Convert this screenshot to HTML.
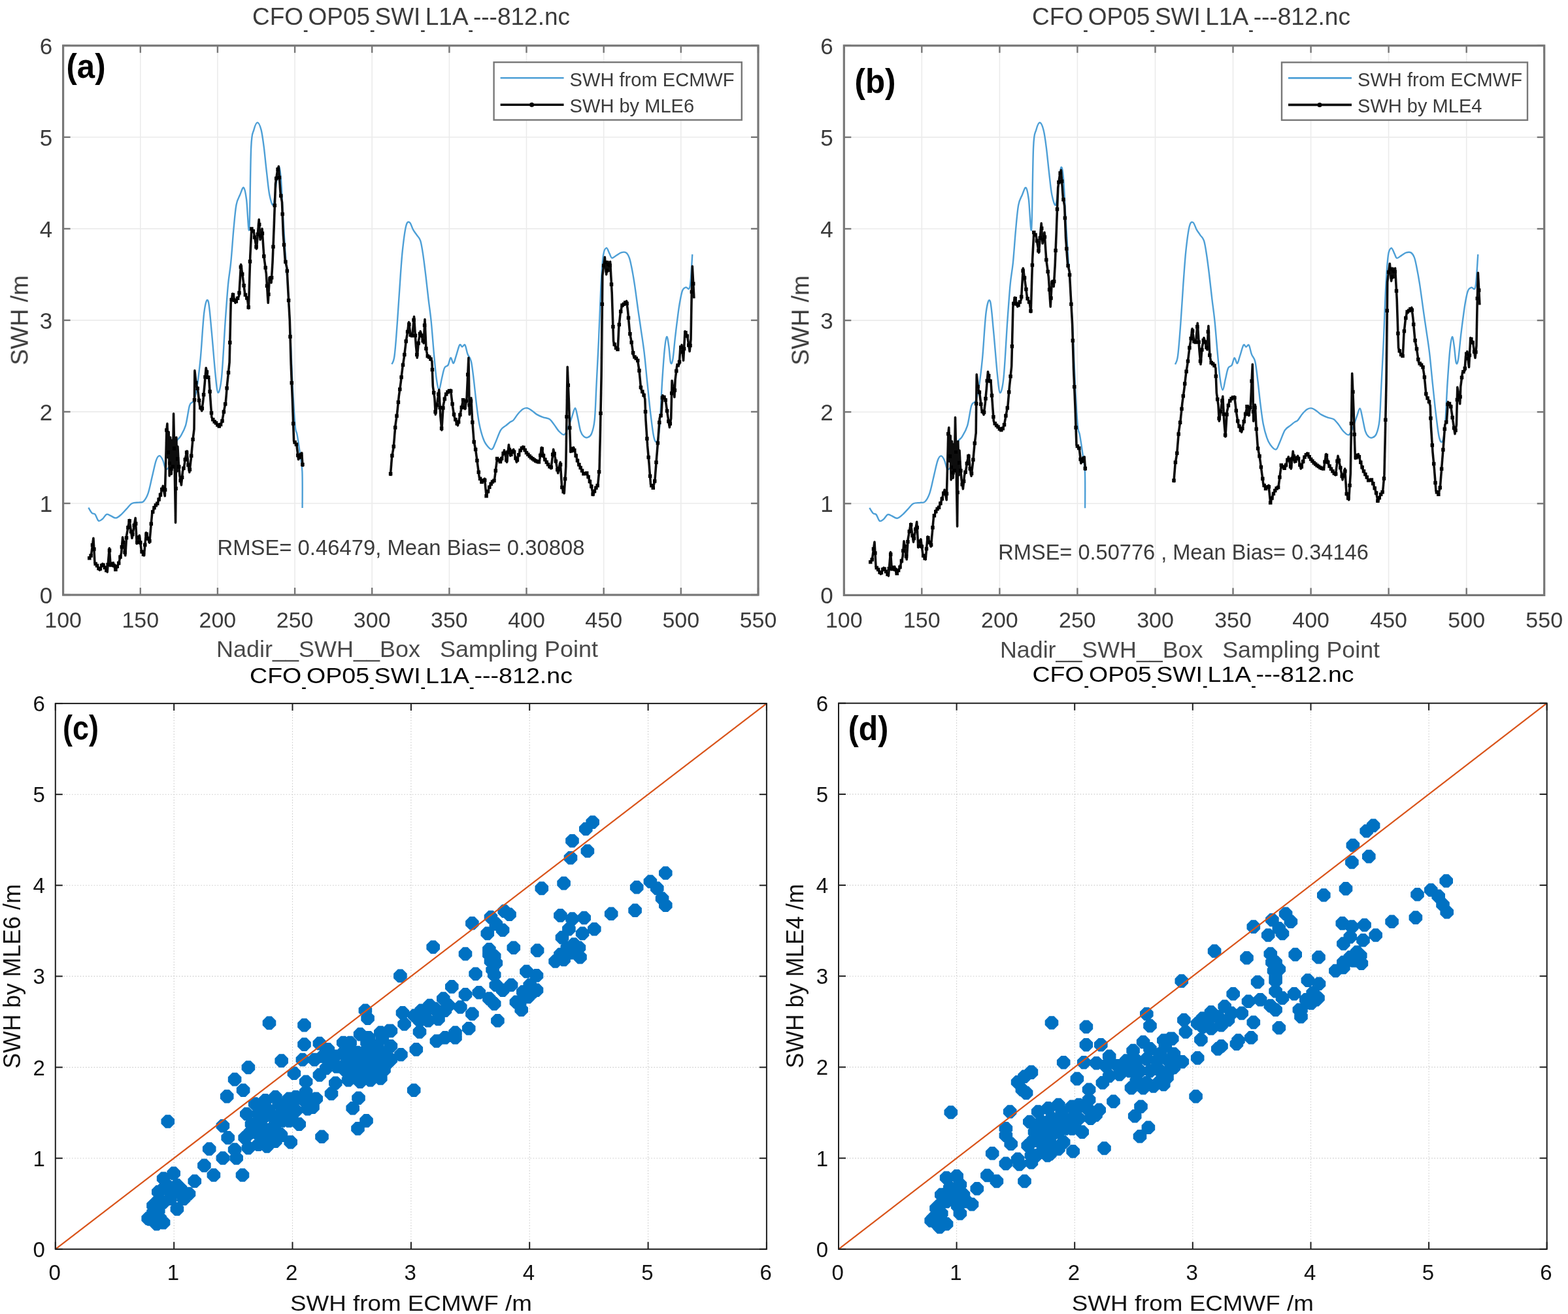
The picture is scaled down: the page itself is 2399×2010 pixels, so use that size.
<!DOCTYPE html><html><head><meta charset="utf-8"><title>SWH comparison</title><style>html,body{margin:0;padding:0;background:#fff;}svg{display:block;}text{font-family:'Liberation Sans', Arial, Helvetica, sans-serif;}</style></head><body>
<svg width="2399" height="2010" viewBox="0 0 2399 2010">
<rect width="2399" height="2010" fill="#fff"/>
<defs><filter id="soft" x="0" y="0" width="2399" height="2010" filterUnits="userSpaceOnUse"><feGaussianBlur stdDeviation="0.55"/></filter></defs>
<g filter="url(#soft)">
<line x1="214.8" y1="69.8" x2="214.8" y2="910.0" stroke="#ebebeb" stroke-width="1.6"/>
<line x1="332.9" y1="69.8" x2="332.9" y2="910.0" stroke="#ebebeb" stroke-width="1.6"/>
<line x1="451.1" y1="69.8" x2="451.1" y2="910.0" stroke="#ebebeb" stroke-width="1.6"/>
<line x1="569.2" y1="69.8" x2="569.2" y2="910.0" stroke="#ebebeb" stroke-width="1.6"/>
<line x1="687.4" y1="69.8" x2="687.4" y2="910.0" stroke="#ebebeb" stroke-width="1.6"/>
<line x1="805.5" y1="69.8" x2="805.5" y2="910.0" stroke="#ebebeb" stroke-width="1.6"/>
<line x1="923.7" y1="69.8" x2="923.7" y2="910.0" stroke="#ebebeb" stroke-width="1.6"/>
<line x1="1041.8" y1="69.8" x2="1041.8" y2="910.0" stroke="#ebebeb" stroke-width="1.6"/>
<line x1="96.6" y1="770.0" x2="1160.0" y2="770.0" stroke="#ebebeb" stroke-width="1.6"/>
<line x1="96.6" y1="629.9" x2="1160.0" y2="629.9" stroke="#ebebeb" stroke-width="1.6"/>
<line x1="96.6" y1="489.9" x2="1160.0" y2="489.9" stroke="#ebebeb" stroke-width="1.6"/>
<line x1="96.6" y1="349.9" x2="1160.0" y2="349.9" stroke="#ebebeb" stroke-width="1.6"/>
<line x1="96.6" y1="209.8" x2="1160.0" y2="209.8" stroke="#ebebeb" stroke-width="1.6"/>
<path d="M135.4 776.5C136.2 777.9 138.9 783.0 140.6 784.7C142.2 786.4 143.8 784.8 145.5 786.8C147.2 788.8 148.8 795.4 150.7 796.6C152.6 797.7 154.8 795.4 156.9 793.8C158.9 792.1 161.0 787.6 163.0 786.8C165.1 786.0 166.7 787.9 169.1 788.9C171.6 789.8 174.7 792.7 177.4 792.4C180.2 792.0 183.0 789.1 185.7 786.8C188.4 784.4 191.0 781.2 193.7 778.4C196.4 775.6 198.9 771.6 202.0 770.0C205.1 768.3 209.5 769.0 212.4 768.6C215.3 768.1 217.1 769.5 219.5 767.2C221.8 764.8 224.4 760.9 226.6 754.6C228.8 748.3 230.7 737.8 232.7 729.4C234.8 721.0 237.0 709.5 238.9 704.2C240.7 698.8 242.3 697.1 244.1 697.1C245.8 697.1 247.7 700.9 249.3 704.2C250.8 707.4 251.7 715.1 253.3 716.8C254.8 718.4 256.6 717.9 258.5 714.0C260.3 710.0 262.4 699.5 264.4 692.9C266.4 686.4 268.4 678.9 270.3 674.7C272.2 670.5 273.7 671.7 276.0 667.7C278.2 663.8 281.6 658.9 284.0 650.9C286.4 643.0 288.1 626.4 290.1 620.1C292.2 613.8 294.5 617.3 296.3 613.1C298.1 608.9 299.3 605.7 301.0 594.9C302.7 584.2 304.8 568.3 306.7 548.7C308.6 529.1 310.4 492.0 312.4 477.3C314.3 462.6 316.6 455.6 318.5 460.5C320.4 465.4 321.9 488.3 323.7 506.7C325.5 525.1 327.8 555.5 329.4 571.1C331.0 586.8 331.8 599.6 333.4 600.5C335.0 601.5 337.2 594.9 339.1 576.7C340.9 558.5 343.1 514.9 344.7 491.3C346.4 467.7 347.6 450.2 349.0 435.3C350.4 420.4 351.8 415.9 353.2 401.7C354.7 387.4 356.1 364.6 357.5 349.9C358.9 335.2 359.9 322.1 361.5 313.5C363.1 304.8 365.3 302.5 367.2 298.1C369.1 293.6 371.2 285.7 372.8 286.9C374.5 288.0 375.7 294.6 377.1 305.1C378.5 315.6 380.2 363.2 381.4 349.9C382.5 336.6 383.0 250.4 384.2 225.2C385.4 200.0 386.8 204.9 388.4 198.6C390.1 192.3 392.0 187.4 393.9 187.4C395.7 187.4 397.9 192.3 399.6 198.6C401.2 204.9 402.4 214.3 403.8 225.2C405.2 236.2 406.6 252.3 408.1 264.4C409.5 276.6 410.7 289.9 412.3 298.1C414.0 306.2 416.4 315.3 418.0 313.5C419.6 311.6 420.6 296.4 422.0 286.9C423.4 277.3 425.0 258.4 426.3 256.0C427.6 253.7 428.6 259.5 429.8 272.8C431.0 286.2 432.2 316.0 433.3 335.9C434.5 355.7 435.7 374.4 436.9 391.9C438.1 409.4 439.3 422.2 440.4 440.9C441.6 459.6 442.8 479.4 444.0 503.9C445.2 528.4 446.3 563.4 447.5 587.9C448.8 612.4 450.4 638.1 451.5 650.9C452.7 663.8 453.4 657.7 454.6 664.9C455.9 672.2 457.8 685.0 459.1 694.3C460.4 703.7 461.8 707.2 462.4 721.0C463.0 734.7 462.6 767.6 462.6 777.0" fill="none" stroke="#4d9fd6" stroke-width="2.4" stroke-linejoin="round"/>
<path d="M599.5 557.1C600.1 555.0 602.1 554.8 603.5 544.5C604.9 534.2 606.4 513.7 607.7 495.5C609.1 477.3 610.4 454.0 611.8 435.3C613.1 416.6 614.2 398.4 615.8 383.5C617.4 368.5 619.4 352.9 621.2 345.7C623.0 338.4 624.8 339.1 626.6 340.1C628.5 341.0 630.2 348.0 632.1 351.3C633.9 354.5 635.9 356.9 637.8 359.7C639.6 362.5 641.6 363.2 643.2 368.1C644.8 373.0 645.9 380.4 647.2 389.1C648.5 397.7 649.8 408.4 651.2 419.9C652.6 431.3 654.1 446.0 655.5 457.7C656.9 469.4 658.1 476.4 659.5 489.9C660.9 503.4 662.4 524.0 663.7 538.9C665.1 553.8 666.4 570.0 667.8 579.5C669.1 589.1 670.4 596.3 671.8 596.3C673.1 596.3 674.4 585.1 675.8 579.5C677.2 573.9 678.4 566.2 680.1 562.7C681.7 559.2 683.9 561.1 685.5 558.5C687.1 555.9 688.1 547.8 689.5 547.3C690.9 546.8 692.4 556.2 693.8 555.7C695.1 555.2 696.2 549.2 697.8 544.5C699.4 539.8 701.6 530.0 703.2 527.7C704.8 525.4 705.8 530.5 707.2 530.5C708.6 530.5 710.1 525.8 711.5 527.7C712.9 529.6 713.9 537.5 715.5 541.7C717.1 545.9 719.4 546.1 720.9 552.9C722.5 559.7 723.6 571.1 725.0 582.3C726.3 593.5 727.8 609.2 729.2 620.1C730.6 631.1 731.6 640.0 733.2 648.1C734.8 656.3 736.8 663.8 738.7 669.1C740.5 674.5 741.8 677.3 744.1 680.3C746.4 683.4 750.1 687.8 752.4 687.3C754.6 686.9 755.5 682.4 757.8 677.5C760.1 672.6 763.4 662.4 766.1 657.9C768.8 653.5 771.6 653.0 774.1 650.9C776.6 648.8 779.0 646.7 781.0 645.3C782.9 643.9 783.7 644.6 785.7 642.5C787.7 640.4 790.4 635.5 792.8 632.7C795.2 629.9 797.7 627.1 800.1 625.7C802.5 624.3 804.8 623.9 807.2 624.3C809.6 624.8 811.9 626.9 814.3 628.5C816.7 630.2 818.8 632.5 821.6 634.1C824.4 635.8 827.9 637.2 831.1 638.3C834.2 639.5 837.7 639.3 840.5 641.1C843.3 643.0 845.4 646.5 847.8 649.5C850.2 652.6 852.4 656.8 854.9 659.3C857.5 661.9 860.8 665.9 863.2 664.9C865.6 664.0 867.3 658.4 869.3 653.7C871.3 649.1 873.5 641.8 875.2 636.9C877.0 632.0 878.6 624.3 880.0 624.3C881.3 624.3 882.1 631.1 883.5 636.9C884.9 642.8 886.6 654.2 888.2 659.3C889.9 664.5 891.4 666.1 893.2 667.7C895.0 669.4 897.1 669.8 899.1 669.1C901.1 668.4 903.2 668.0 905.0 663.5C906.8 659.1 908.5 654.2 909.7 642.5C911.0 630.9 911.3 613.6 912.3 593.5C913.4 573.5 914.7 548.0 915.9 522.1C917.1 496.2 918.3 460.0 919.4 438.1C920.6 416.1 921.6 400.3 923.0 390.5C924.4 380.7 926.1 379.7 927.7 379.3C929.3 378.8 931.0 385.1 932.4 387.7C933.9 390.2 934.4 394.2 936.2 394.7C938.0 395.1 940.9 391.9 943.3 390.5C945.7 389.1 948.0 387.0 950.4 386.3C952.8 385.6 955.5 385.1 957.5 386.3C959.5 387.4 961.0 389.8 962.4 393.3C963.9 396.8 964.6 400.5 966.0 407.3C967.4 414.0 969.0 422.9 970.7 433.9C972.4 444.9 974.5 461.4 976.1 473.1C977.8 484.8 979.1 492.9 980.6 503.9C982.2 514.9 983.9 524.9 985.6 538.9C987.3 552.9 988.9 572.1 990.6 587.9C992.2 603.8 993.9 620.6 995.5 634.1C997.2 647.7 998.8 662.4 1000.5 669.1C1002.1 675.9 1004.0 677.5 1005.5 674.7C1006.9 671.9 1008.0 667.3 1009.2 652.3C1010.5 637.4 1011.8 604.7 1013.0 585.1C1014.3 565.5 1015.6 546.4 1016.8 534.7C1018.0 523.0 1019.0 516.0 1020.1 515.1C1021.2 514.2 1022.2 522.6 1023.2 529.1C1024.2 535.6 1025.0 550.8 1026.0 554.3C1027.0 557.8 1028.1 556.6 1029.3 550.1C1030.5 543.6 1031.8 526.1 1033.1 515.1C1034.4 504.1 1035.6 493.6 1036.9 484.3C1038.1 475.0 1039.4 465.9 1040.7 459.1C1041.9 452.3 1043.0 447.0 1044.4 443.7C1045.9 440.4 1047.6 440.4 1049.4 439.5C1051.3 438.6 1053.9 446.5 1055.6 438.1C1057.2 429.7 1058.7 397.2 1059.3 389.1" fill="none" stroke="#4d9fd6" stroke-width="2.4" stroke-linejoin="round"/>
<polyline points="136.3,854.4 139.4,849.8 142.9,823.2 145.0,861.0 148.6,865.2 152.4,872.2 156.9,862.4 161.1,869.4 164.2,875.0 167.3,838.6 169.1,865.2 173.4,861.0 176.5,872.2 181.4,862.4 185.7,845.6 187.6,821.8 191.8,849.8 193.7,819.0 198.0,795.2 202.0,823.2 207.2,792.4 209.3,831.6 213.3,819.0 216.4,842.8 220.4,849.8 223.5,814.8 228.7,830.2 232.7,785.4 237.0,774.2 241.0,770.0 245.0,758.8 249.3,743.4 252.3,758.8 253.3,721.0 254.9,657.9 255.9,648.1 257.1,700.0 258.2,660.7 259.2,728.0 260.6,669.1 262.3,725.2 263.4,673.3 264.4,714.0 265.6,632.7 266.7,685.9 268.6,799.4 269.8,669.1 271.0,721.0 271.9,683.1 273.1,705.6 275.0,728.0 277.4,742.0 279.5,721.0 281.6,714.0 283.8,700.0 286.1,690.1 288.0,711.2 289.9,722.4 292.5,700.0 294.6,676.1 297.0,656.5 297.9,566.9 300.1,587.9 302.4,594.9 305.5,620.1 308.8,628.5 310.9,611.7 313.1,587.9 315.2,562.7 317.3,573.9 319.7,579.5 321.8,608.9 323.9,638.3 327.0,643.9 330.3,646.7 334.8,652.3 337.6,649.5 340.0,643.9 342.1,631.3 345.4,614.5 347.6,587.9 351.1,554.3 353.2,463.3 356.1,449.3 360.1,463.3 362.9,457.7 365.8,452.1 368.6,404.5 371.4,424.1 374.7,449.3 378.5,457.7 380.4,471.7 382.8,391.9 384.9,349.9 388.4,355.5 392.5,380.7 396.2,335.9 398.1,366.7 401.0,349.9 403.8,391.9 407.3,418.5 410.2,463.3 412.3,424.1 415.1,432.5 417.0,401.7 419.2,347.1 421.5,281.3 424.4,261.6 426.3,254.6 429.1,295.3 431.5,309.3 433.3,358.3 436.2,397.5 439.0,410.1 440.9,446.5 443.3,489.9 445.2,557.1 447.5,614.5 449.6,674.7 453.9,680.3 456.5,702.8 461.7,692.9 463.1,714.0" fill="none" stroke="#111" stroke-width="3.6" stroke-linejoin="round"/>
<path d="M136.8 853.7h0 M139.1 850.1h0 M141.5 833.8h0 M143.9 840.0h0 M146.2 862.4h0 M148.6 865.2h0 M151.0 869.6h0 M153.3 870.1h0 M155.7 865.0h0 M158.0 864.3h0 M160.4 868.2h0 M162.8 872.4h0 M165.1 863.8h0 M167.5 841.9h0 M169.9 864.5h0 M172.2 862.2h0 M174.6 865.3h0 M176.9 871.3h0 M179.3 866.6h0 M181.7 861.5h0 M184.0 852.1h0 M186.4 836.7h0 M188.8 829.6h0 M191.1 845.1h0 M193.5 822.8h0 M195.9 807.1h0 M198.2 796.8h0 M200.6 813.3h0 M202.9 817.6h0 M205.3 803.6h0 M207.7 801.1h0 M210.0 829.4h0 M212.4 821.9h0 M214.8 830.0h0 M217.1 844.0h0 M219.5 848.1h0 M221.8 833.6h0 M224.2 816.9h0 M226.6 823.9h0 M228.9 827.5h0 M231.3 801.2h0 M233.7 782.9h0 M236.0 776.7h0 M238.4 772.7h0 M240.7 770.2h0 M243.1 764.0h0 M245.5 757.1h0 M247.8 748.5h0 M250.2 748.1h0 M252.6 749.3h0 M254.9 657.9h0 M257.3 692.1h0 M259.7 708.4h0 M262.0 717.2h0 M264.4 714.0h0 M266.7 685.9h0 M269.1 747.3h0 M271.5 702.1h0 M273.8 714.0h0 M276.2 735.0h0 M278.6 730.3h0 M280.9 716.3h0 M283.3 703.1h0 M285.6 692.1h0 M288.0 711.2h0 M290.4 718.3h0 M292.7 697.3h0 M295.1 672.2h0 M297.5 611.7h0 M299.8 585.6h0 M302.2 594.2h0 M304.6 612.4h0 M306.9 623.7h0 M309.3 624.8h0 M311.6 603.8h0 M314.0 576.7h0 M316.4 568.9h0 M318.7 577.3h0 M321.1 599.1h0 M323.5 631.8h0 M325.8 641.8h0 M328.2 644.9h0 M330.5 647.0h0 M332.9 650.0h0 M335.3 651.9h0 M337.6 649.5h0 M340.0 643.9h0 M342.4 630.1h0 M344.7 618.1h0 M347.1 593.8h0 M349.5 570.0h0 M351.8 524.0h0 M354.2 458.6h0 M356.5 450.9h0 M358.9 459.2h0 M361.3 461.0h0 M363.6 456.3h0 M366.0 448.1h0 M368.4 408.4h0 M370.7 419.2h0 M373.1 436.7h0 M375.4 450.9h0 M377.8 456.1h0 M380.2 469.9h0 M382.5 399.9h0 M384.9 349.9h0 M387.3 353.6h0 M389.6 362.9h0 M392.0 377.7h0 M394.4 358.3h0 M396.7 343.6h0 M399.1 361.1h0 M401.4 356.9h0 M403.8 391.9h0 M406.2 409.6h0 M408.5 437.2h0 M410.9 450.2h0 M413.3 426.9h0 M415.6 424.8h0 M418.0 377.4h0 M420.3 314.2h0 M422.7 273.1h0 M425.1 259.0h0 M427.4 271.6h0 M429.8 299.5h0 M432.2 327.6h0 M434.5 374.6h0 M436.9 400.6h0 M439.3 414.6h0 M441.6 459.5h0 M444.0 515.1h0 M446.3 585.8h0 M448.7 648.0h0 M451.1 676.6h0 M453.4 679.7h0 M455.8 696.6h0 M458.2 699.6h0 M460.5 695.2h0 M462.9 710.5h0" stroke="#000" stroke-width="5.5" stroke-linecap="square" fill="none"/>
<polyline points="597.3,728.0 599.5,700.0 602.3,683.1 604.9,650.9 607.7,631.3 610.3,606.1 613.2,585.1 615.8,562.7 618.6,544.5 621.2,522.1 623.3,509.5 625.5,492.7 628.1,512.3 630.9,513.7 633.5,484.3 636.3,527.7 638.2,547.3 640.4,522.1 643.2,506.7 645.8,516.5 648.2,524.9 650.0,488.5 651.9,533.3 654.1,544.5 658.1,547.3 660.9,552.9 662.3,590.7 664.9,608.9 666.3,634.1 669.2,614.5 671.8,596.3 673.9,636.9 675.8,657.9 678.2,620.1 681.5,604.7 685.5,599.1 689.5,596.3 692.3,620.1 694.9,636.9 700.4,650.9 704.6,631.3 708.6,611.7 711.5,625.7 714.1,608.9 716.9,547.3 718.3,634.1 720.9,608.9 722.4,639.7 725.0,674.7 727.8,688.7 730.6,709.8 733.2,729.4 737.2,737.8 741.5,732.2 744.1,758.8 748.3,746.2 752.4,737.8 756.4,735.0 760.6,701.4 766.1,707.0 771.5,688.7 775.5,707.0 778.4,680.3 781.0,697.1 785.7,687.3 790.4,707.0 795.4,690.1 800.1,683.1 804.8,691.5 809.6,697.1 814.3,701.4 820.4,705.6 825.1,707.0 828.7,684.5 832.2,700.0 837.0,708.4 843.1,716.8 846.7,687.3 850.2,704.2 853.7,723.8 857.3,707.0 859.6,744.8 863.2,754.6 865.8,714.0 868.2,561.3 870.5,617.3 872.9,691.5 877.6,684.5 881.2,697.1 884.7,708.4 889.7,718.2 893.2,725.2 897.9,723.8 901.5,733.6 905.0,744.8 907.4,757.4 910.9,747.6 914.7,742.0 917.1,716.8 918.3,666.3 920.1,575.3 921.8,421.3 925.3,393.3 927.7,419.9 930.1,400.3 932.4,414.3 933.6,400.3 936.2,447.9 938.6,522.1 942.1,531.9 945.2,534.7 946.8,501.1 949.2,478.7 951.6,467.5 955.1,464.7 958.7,460.5 960.6,475.9 963.6,509.5 966.0,522.1 969.3,544.5 975.4,550.1 978.0,566.9 980.6,594.9 984.4,601.9 986.8,610.3 988.0,642.5 990.6,681.7 992.9,707.0 995.5,740.6 999.3,746.2 1001.9,735.0 1004.3,704.2 1006.9,671.9 1009.2,639.7 1011.8,634.1 1013.7,604.7 1018.0,610.3 1021.8,636.9 1024.4,653.7 1026.7,639.7 1028.1,582.3 1031.9,607.5 1033.1,580.9 1035.7,559.9 1039.2,557.1 1040.7,534.7 1043.0,527.7 1045.6,551.5 1048.0,506.7 1051.8,515.1 1055.1,537.5 1057.0,519.3 1058.1,456.3 1059.3,407.3 1061.9,456.3" fill="none" stroke="#111" stroke-width="3.6" stroke-linejoin="round"/>
<path d="M597.6 724.8h0 M599.9 697.1h0 M602.3 683.1h0 M604.7 653.9h0 M607.0 636.2h0 M609.4 615.3h0 M611.8 595.6h0 M614.1 577.0h0 M616.5 558.2h0 M618.8 542.5h0 M621.2 522.1h0 M623.6 507.6h0 M625.9 496.3h0 M628.3 512.4h0 M630.7 513.6h0 M633.0 489.6h0 M635.4 513.2h0 M637.8 542.4h0 M640.1 524.9h0 M642.5 510.6h0 M644.8 512.9h0 M647.2 521.5h0 M649.6 497.6h0 M651.9 533.3h0 M654.3 544.7h0 M656.7 546.3h0 M659.0 549.2h0 M661.4 565.5h0 M663.7 600.7h0 M666.1 629.9h0 M668.5 619.4h0 M670.8 602.9h0 M673.2 623.4h0 M675.6 655.3h0 M677.9 623.9h0 M680.3 610.2h0 M682.7 603.1h0 M685.0 599.8h0 M687.4 597.8h0 M689.7 598.3h0 M692.1 618.1h0 M694.5 633.9h0 M696.8 641.8h0 M699.2 647.9h0 M701.6 645.5h0 M703.9 634.6h0 M706.3 623.3h0 M708.6 611.7h0 M711.0 623.4h0 M713.4 613.5h0 M715.7 573.0h0 M718.1 619.7h0 M720.5 613.5h0 M722.8 646.1h0 M725.2 675.9h0 M727.6 687.6h0 M729.9 704.5h0 M732.3 722.2h0 M734.6 732.3h0 M737.0 737.3h0 M739.4 735.0h0 M741.7 734.6h0 M744.1 758.8h0 M746.5 751.8h0 M748.8 745.2h0 M751.2 740.2h0 M753.5 736.9h0 M755.9 735.3h0 M758.3 720.0h0 M760.6 701.4h0 M763.0 703.8h0 M765.4 706.2h0 M767.7 701.4h0 M770.1 693.5h0 M772.4 693.0h0 M774.8 703.7h0 M777.2 691.4h0 M779.5 688.0h0 M781.9 695.2h0 M784.3 690.3h0 M786.6 691.3h0 M789.0 701.1h0 M791.4 703.8h0 M793.7 695.7h0 M796.1 689.1h0 M798.4 685.6h0 M800.8 684.4h0 M803.2 688.6h0 M805.5 692.4h0 M807.9 695.2h0 M810.3 697.8h0 M812.6 699.9h0 M815.0 701.8h0 M817.3 703.5h0 M819.7 705.1h0 M822.1 706.0h0 M824.4 706.7h0 M826.8 696.5h0 M829.2 686.6h0 M831.5 696.9h0 M833.9 702.9h0 M836.3 707.1h0 M838.6 710.6h0 M841.0 713.8h0 M843.3 714.8h0 M845.7 695.2h0 M848.1 694.1h0 M850.4 705.5h0 M852.8 718.5h0 M855.2 717.0h0 M857.5 710.7h0 M859.9 745.4h0 M862.2 751.9h0 M864.6 732.4h0 M867.0 637.6h0 M869.3 589.3h0 M871.7 654.4h0 M874.1 689.8h0 M876.4 686.3h0 M878.8 688.7h0 M881.2 697.1h0 M883.5 704.6h0 M885.9 710.7h0 M888.2 715.4h0 M890.6 720.0h0 M893.0 724.7h0 M895.3 724.5h0 M897.7 723.8h0 M900.1 729.6h0 M902.4 736.5h0 M904.8 744.0h0 M907.1 756.1h0 M909.5 751.5h0 M911.9 746.2h0 M914.2 742.7h0 M916.6 721.8h0 M919.0 632.2h0 M921.3 465.3h0 M923.7 406.3h0 M926.1 401.3h0 M928.4 414.0h0 M930.8 404.5h0 M933.1 405.9h0 M935.5 434.9h0 M937.9 499.8h0 M940.2 526.7h0 M942.6 532.3h0 M945.0 534.5h0 M947.3 496.6h0 M949.7 476.5h0 M952.0 467.1h0 M954.4 465.3h0 M956.8 462.7h0 M959.1 464.3h0 M961.5 486.2h0 M963.9 510.8h0 M966.2 523.7h0 M968.6 539.7h0 M971.0 546.0h0 M973.3 548.2h0 M975.7 551.6h0 M978.0 566.9h0 M980.4 592.4h0 M982.8 598.9h0 M985.1 604.4h0 M987.5 629.7h0 M989.9 671.1h0 M992.2 699.4h0 M994.6 728.3h0 M996.9 742.7h0 M999.3 746.2h0 M1001.7 736.0h0 M1004.0 707.2h0 M1006.4 677.8h0 M1008.8 646.2h0 M1011.1 635.7h0 M1013.5 608.4h0 M1015.9 607.5h0 M1018.2 612.0h0 M1020.6 628.6h0 M1022.9 644.6h0 M1025.3 648.1h0 M1027.7 601.5h0 M1030.0 594.9h0 M1032.4 596.9h0 M1034.8 567.6h0 M1037.1 558.8h0 M1039.5 553.4h0 M1041.8 531.2h0 M1044.2 538.5h0 M1046.6 533.6h0 M1048.9 508.8h0 M1051.3 514.1h0 M1053.7 527.9h0 M1056.0 528.4h0 M1058.4 446.5h0 M1060.7 434.0h0" stroke="#000" stroke-width="5.5" stroke-linecap="square" fill="none"/>
<line x1="96.6" y1="910.0" x2="96.6" y2="899.0" stroke="#777777" stroke-width="2.4"/>
<line x1="96.6" y1="69.8" x2="96.6" y2="80.8" stroke="#777777" stroke-width="2.4"/>
<line x1="214.8" y1="910.0" x2="214.8" y2="899.0" stroke="#777777" stroke-width="2.4"/>
<line x1="214.8" y1="69.8" x2="214.8" y2="80.8" stroke="#777777" stroke-width="2.4"/>
<line x1="332.9" y1="910.0" x2="332.9" y2="899.0" stroke="#777777" stroke-width="2.4"/>
<line x1="332.9" y1="69.8" x2="332.9" y2="80.8" stroke="#777777" stroke-width="2.4"/>
<line x1="451.1" y1="910.0" x2="451.1" y2="899.0" stroke="#777777" stroke-width="2.4"/>
<line x1="451.1" y1="69.8" x2="451.1" y2="80.8" stroke="#777777" stroke-width="2.4"/>
<line x1="569.2" y1="910.0" x2="569.2" y2="899.0" stroke="#777777" stroke-width="2.4"/>
<line x1="569.2" y1="69.8" x2="569.2" y2="80.8" stroke="#777777" stroke-width="2.4"/>
<line x1="687.4" y1="910.0" x2="687.4" y2="899.0" stroke="#777777" stroke-width="2.4"/>
<line x1="687.4" y1="69.8" x2="687.4" y2="80.8" stroke="#777777" stroke-width="2.4"/>
<line x1="805.5" y1="910.0" x2="805.5" y2="899.0" stroke="#777777" stroke-width="2.4"/>
<line x1="805.5" y1="69.8" x2="805.5" y2="80.8" stroke="#777777" stroke-width="2.4"/>
<line x1="923.7" y1="910.0" x2="923.7" y2="899.0" stroke="#777777" stroke-width="2.4"/>
<line x1="923.7" y1="69.8" x2="923.7" y2="80.8" stroke="#777777" stroke-width="2.4"/>
<line x1="1041.8" y1="910.0" x2="1041.8" y2="899.0" stroke="#777777" stroke-width="2.4"/>
<line x1="1041.8" y1="69.8" x2="1041.8" y2="80.8" stroke="#777777" stroke-width="2.4"/>
<line x1="1160.0" y1="910.0" x2="1160.0" y2="899.0" stroke="#777777" stroke-width="2.4"/>
<line x1="1160.0" y1="69.8" x2="1160.0" y2="80.8" stroke="#777777" stroke-width="2.4"/>
<line x1="96.6" y1="910.0" x2="107.6" y2="910.0" stroke="#777777" stroke-width="2.4"/>
<line x1="1160.0" y1="910.0" x2="1149.0" y2="910.0" stroke="#777777" stroke-width="2.4"/>
<line x1="96.6" y1="770.0" x2="107.6" y2="770.0" stroke="#777777" stroke-width="2.4"/>
<line x1="1160.0" y1="770.0" x2="1149.0" y2="770.0" stroke="#777777" stroke-width="2.4"/>
<line x1="96.6" y1="629.9" x2="107.6" y2="629.9" stroke="#777777" stroke-width="2.4"/>
<line x1="1160.0" y1="629.9" x2="1149.0" y2="629.9" stroke="#777777" stroke-width="2.4"/>
<line x1="96.6" y1="489.9" x2="107.6" y2="489.9" stroke="#777777" stroke-width="2.4"/>
<line x1="1160.0" y1="489.9" x2="1149.0" y2="489.9" stroke="#777777" stroke-width="2.4"/>
<line x1="96.6" y1="349.9" x2="107.6" y2="349.9" stroke="#777777" stroke-width="2.4"/>
<line x1="1160.0" y1="349.9" x2="1149.0" y2="349.9" stroke="#777777" stroke-width="2.4"/>
<line x1="96.6" y1="209.8" x2="107.6" y2="209.8" stroke="#777777" stroke-width="2.4"/>
<line x1="1160.0" y1="209.8" x2="1149.0" y2="209.8" stroke="#777777" stroke-width="2.4"/>
<line x1="96.6" y1="69.8" x2="107.6" y2="69.8" stroke="#777777" stroke-width="2.4"/>
<line x1="1160.0" y1="69.8" x2="1149.0" y2="69.8" stroke="#777777" stroke-width="2.4"/>
<rect x="96.6" y="69.8" width="1063.4" height="840.2" fill="none" stroke="#777777" stroke-width="3.2"/>
<text x="96.6" y="959.5" font-size="34.0" fill="#3a3a3a" text-anchor="middle" font-weight="normal" >100</text>
<text x="214.8" y="959.5" font-size="34.0" fill="#3a3a3a" text-anchor="middle" font-weight="normal" >150</text>
<text x="332.9" y="959.5" font-size="34.0" fill="#3a3a3a" text-anchor="middle" font-weight="normal" >200</text>
<text x="451.1" y="959.5" font-size="34.0" fill="#3a3a3a" text-anchor="middle" font-weight="normal" >250</text>
<text x="569.2" y="959.5" font-size="34.0" fill="#3a3a3a" text-anchor="middle" font-weight="normal" >300</text>
<text x="687.4" y="959.5" font-size="34.0" fill="#3a3a3a" text-anchor="middle" font-weight="normal" >350</text>
<text x="805.5" y="959.5" font-size="34.0" fill="#3a3a3a" text-anchor="middle" font-weight="normal" >400</text>
<text x="923.7" y="959.5" font-size="34.0" fill="#3a3a3a" text-anchor="middle" font-weight="normal" >450</text>
<text x="1041.8" y="959.5" font-size="34.0" fill="#3a3a3a" text-anchor="middle" font-weight="normal" >500</text>
<text x="1160.0" y="959.5" font-size="34.0" fill="#3a3a3a" text-anchor="middle" font-weight="normal" >550</text>
<text x="80.1" y="922.8" font-size="35.0" fill="#3a3a3a" text-anchor="end" font-weight="normal" >0</text>
<text x="80.1" y="782.8" font-size="35.0" fill="#3a3a3a" text-anchor="end" font-weight="normal" >1</text>
<text x="80.1" y="642.7" font-size="35.0" fill="#3a3a3a" text-anchor="end" font-weight="normal" >2</text>
<text x="80.1" y="502.7" font-size="35.0" fill="#3a3a3a" text-anchor="end" font-weight="normal" >3</text>
<text x="80.1" y="362.7" font-size="35.0" fill="#3a3a3a" text-anchor="end" font-weight="normal" >4</text>
<text x="80.1" y="222.6" font-size="35.0" fill="#3a3a3a" text-anchor="end" font-weight="normal" >5</text>
<text x="80.1" y="82.6" font-size="35.0" fill="#3a3a3a" text-anchor="end" font-weight="normal" >6</text>
<text transform="translate(42.6 489.9) rotate(-90)" x="0" y="0" font-size="37" fill="#3a3a3a" text-anchor="middle">SWH /m</text>
<text x="101.5" y="118.7" font-size="52.0" fill="#000" text-anchor="start" font-weight="bold" textLength="60.0" lengthAdjust="spacingAndGlyphs" >(a)</text>
<rect x="755.6" y="95.2" width="379.2" height="88.3" fill="#fff" stroke="#777777" stroke-width="2.4"/>
<line x1="765.6" y1="119.2" x2="862.6" y2="119.2" stroke="#4d9fd6" stroke-width="2.6"/>
<line x1="765.6" y1="160.2" x2="862.6" y2="160.2" stroke="#111" stroke-width="3.6"/>
<circle cx="813.6" cy="160.2" r="3.5" fill="#000"/>
<text x="871.6" y="131.7" font-size="29.0" fill="#3a3a3a" text-anchor="start" font-weight="normal" textLength="252.0" lengthAdjust="spacingAndGlyphs" >SWH from ECMWF</text>
<text x="871.6" y="171.5" font-size="29.0" fill="#3a3a3a" text-anchor="start" font-weight="normal" textLength="190.5" lengthAdjust="spacingAndGlyphs" >SWH by MLE6</text>
<text x="332.5" y="848.6" font-size="34.0" fill="#3a3a3a" text-anchor="start" font-weight="normal" textLength="562.0" lengthAdjust="spacingAndGlyphs" >RMSE= 0.46479, Mean Bias= 0.30808</text>
<text x="386.0" y="38.4" font-size="37.5" fill="#3a3a3a" textLength="486.0" lengthAdjust="spacingAndGlyphs">CFO<tspan font-size="22.5" font-weight="bold" dy="14.2">-</tspan><tspan dy="-14.2">OP05</tspan><tspan font-size="22.5" font-weight="bold" dy="14.2">-</tspan><tspan dy="-14.2">SWI</tspan><tspan font-size="22.5" font-weight="bold" dy="14.2">-</tspan><tspan dy="-14.2">L1A</tspan><tspan font-size="22.5" font-weight="bold" dy="14.2">-</tspan><tspan dy="-14.2">---812.nc</tspan></text>
<text x="331.0" y="1005.1" font-size="34.5" fill="#4a4a4a" text-anchor="start" font-weight="normal" textLength="584.0" lengthAdjust="spacingAndGlyphs" xml:space="preserve">Nadir__SWH__Box&#160;&#160;&#160;Sampling Point</text>
</g>
<g filter="url(#soft)">
<line x1="1410.3" y1="69.8" x2="1410.3" y2="910.4" stroke="#ebebeb" stroke-width="1.6"/>
<line x1="1529.4" y1="69.8" x2="1529.4" y2="910.4" stroke="#ebebeb" stroke-width="1.6"/>
<line x1="1648.4" y1="69.8" x2="1648.4" y2="910.4" stroke="#ebebeb" stroke-width="1.6"/>
<line x1="1767.5" y1="69.8" x2="1767.5" y2="910.4" stroke="#ebebeb" stroke-width="1.6"/>
<line x1="1886.5" y1="69.8" x2="1886.5" y2="910.4" stroke="#ebebeb" stroke-width="1.6"/>
<line x1="2005.6" y1="69.8" x2="2005.6" y2="910.4" stroke="#ebebeb" stroke-width="1.6"/>
<line x1="2124.6" y1="69.8" x2="2124.6" y2="910.4" stroke="#ebebeb" stroke-width="1.6"/>
<line x1="2243.7" y1="69.8" x2="2243.7" y2="910.4" stroke="#ebebeb" stroke-width="1.6"/>
<line x1="1291.3" y1="770.3" x2="2362.7" y2="770.3" stroke="#ebebeb" stroke-width="1.6"/>
<line x1="1291.3" y1="630.2" x2="2362.7" y2="630.2" stroke="#ebebeb" stroke-width="1.6"/>
<line x1="1291.3" y1="490.1" x2="2362.7" y2="490.1" stroke="#ebebeb" stroke-width="1.6"/>
<line x1="1291.3" y1="350.0" x2="2362.7" y2="350.0" stroke="#ebebeb" stroke-width="1.6"/>
<line x1="1291.3" y1="209.9" x2="2362.7" y2="209.9" stroke="#ebebeb" stroke-width="1.6"/>
<path d="M1330.3 776.9C1331.2 778.2 1333.9 783.3 1335.6 785.0C1337.3 786.7 1338.9 785.1 1340.6 787.1C1342.3 789.1 1343.9 795.8 1345.8 796.9C1347.7 798.1 1349.9 795.8 1352.0 794.1C1354.1 792.5 1356.1 787.9 1358.2 787.1C1360.3 786.3 1362.0 788.3 1364.4 789.2C1366.8 790.1 1369.9 793.1 1372.7 792.7C1375.5 792.4 1378.3 789.4 1381.1 787.1C1383.8 784.8 1386.4 781.5 1389.2 778.7C1391.9 775.9 1394.4 771.9 1397.5 770.3C1400.6 768.7 1405.0 769.4 1408.0 768.9C1410.9 768.4 1412.7 769.8 1415.1 767.5C1417.5 765.2 1420.0 761.2 1422.2 754.9C1424.5 748.6 1426.4 738.1 1428.4 729.7C1430.5 721.3 1432.7 709.8 1434.6 704.5C1436.5 699.1 1438.1 697.4 1439.9 697.4C1441.6 697.4 1443.6 701.2 1445.1 704.5C1446.7 707.7 1447.6 715.4 1449.2 717.1C1450.7 718.7 1452.5 718.2 1454.4 714.3C1456.3 710.3 1458.4 699.8 1460.3 693.2C1462.3 686.7 1464.4 679.2 1466.3 675.0C1468.2 670.8 1469.7 672.0 1472.0 668.0C1474.3 664.1 1477.7 659.2 1480.1 651.2C1482.5 643.3 1484.2 626.7 1486.3 620.4C1488.4 614.1 1490.7 617.6 1492.5 613.4C1494.3 609.2 1495.5 605.9 1497.2 595.2C1499.0 584.4 1501.1 568.6 1503.0 548.9C1504.9 529.3 1506.7 492.2 1508.7 477.5C1510.7 462.8 1513.0 455.8 1514.9 460.7C1516.8 465.6 1518.3 488.5 1520.1 506.9C1521.9 525.4 1524.2 555.7 1525.8 571.4C1527.4 587.0 1528.2 599.8 1529.9 600.8C1531.5 601.7 1533.7 595.2 1535.6 577.0C1537.5 558.7 1539.6 515.1 1541.3 491.5C1543.0 467.9 1544.2 450.4 1545.6 435.5C1547.0 420.5 1548.4 416.1 1549.9 401.8C1551.3 387.6 1552.8 364.7 1554.2 350.0C1555.5 335.3 1556.6 322.2 1558.2 313.6C1559.8 304.9 1562.0 302.6 1563.9 298.2C1565.8 293.7 1568.0 285.8 1569.6 287.0C1571.3 288.1 1572.5 294.7 1573.9 305.2C1575.3 315.7 1577.0 363.3 1578.2 350.0C1579.4 336.7 1579.9 250.5 1581.1 225.3C1582.2 200.1 1583.7 205.0 1585.3 198.7C1587.0 192.4 1589.0 187.5 1590.8 187.5C1592.7 187.5 1594.9 192.4 1596.5 198.7C1598.2 205.0 1599.4 214.3 1600.8 225.3C1602.2 236.3 1603.7 252.4 1605.1 264.5C1606.5 276.7 1607.7 290.0 1609.4 298.2C1611.1 306.3 1613.5 315.4 1615.1 313.6C1616.7 311.7 1617.8 296.5 1619.1 287.0C1620.5 277.4 1622.1 258.5 1623.4 256.1C1624.7 253.8 1625.8 259.6 1627.0 272.9C1628.2 286.3 1629.4 316.1 1630.6 336.0C1631.8 355.8 1633.0 374.5 1634.1 392.0C1635.3 409.5 1636.5 422.4 1637.7 441.1C1638.9 459.7 1640.1 479.6 1641.3 504.1C1642.5 528.6 1643.6 563.7 1644.9 588.2C1646.1 612.7 1647.7 638.4 1648.9 651.2C1650.1 664.1 1650.7 658.0 1652.0 665.2C1653.3 672.5 1655.2 685.3 1656.5 694.6C1657.8 704.0 1659.3 707.5 1659.9 721.3C1660.5 735.0 1660.1 768.0 1660.1 777.3" fill="none" stroke="#4d9fd6" stroke-width="2.4" stroke-linejoin="round"/>
<path d="M1798.0 557.3C1798.6 555.2 1800.6 555.0 1802.0 544.7C1803.4 534.5 1804.9 513.9 1806.3 495.7C1807.7 477.5 1809.0 454.1 1810.3 435.5C1811.7 416.8 1812.8 398.6 1814.4 383.6C1816.0 368.7 1818.0 353.0 1819.9 345.8C1821.7 338.6 1823.5 339.3 1825.3 340.2C1827.2 341.1 1828.9 348.1 1830.8 351.4C1832.7 354.7 1834.7 357.0 1836.5 359.8C1838.4 362.6 1840.4 363.3 1842.0 368.2C1843.6 373.1 1844.7 380.6 1846.0 389.2C1847.4 397.9 1848.7 408.6 1850.1 420.0C1851.5 431.5 1853.0 446.2 1854.4 457.9C1855.8 469.6 1857.0 476.6 1858.4 490.1C1859.8 503.6 1861.3 524.2 1862.7 539.1C1864.1 554.1 1865.4 570.2 1866.8 579.8C1868.1 589.3 1869.5 596.6 1870.8 596.6C1872.2 596.6 1873.5 585.4 1874.9 579.8C1876.2 574.2 1877.5 566.5 1879.1 563.0C1880.8 559.4 1883.0 561.3 1884.6 558.7C1886.2 556.2 1887.3 548.0 1888.7 547.5C1890.1 547.1 1891.6 556.4 1893.0 555.9C1894.3 555.5 1895.4 549.4 1897.0 544.7C1898.6 540.1 1900.9 530.3 1902.5 527.9C1904.1 525.6 1905.1 530.7 1906.5 530.7C1907.9 530.7 1909.4 526.1 1910.8 527.9C1912.2 529.8 1913.3 537.7 1914.9 541.9C1916.4 546.1 1918.7 546.4 1920.3 553.1C1921.9 559.9 1923.0 571.4 1924.4 582.6C1925.8 593.8 1927.3 609.4 1928.7 620.4C1930.1 631.4 1931.1 640.2 1932.7 648.4C1934.3 656.6 1936.4 664.1 1938.2 669.4C1940.0 674.8 1941.4 677.6 1943.7 680.6C1946.0 683.7 1949.7 688.1 1952.0 687.6C1954.3 687.2 1955.2 682.7 1957.5 677.8C1959.8 672.9 1963.1 662.7 1965.8 658.2C1968.5 653.8 1971.4 653.3 1973.9 651.2C1976.4 649.1 1978.9 647.0 1980.8 645.6C1982.7 644.2 1983.6 644.9 1985.6 642.8C1987.6 640.7 1990.3 635.8 1992.7 633.0C1995.1 630.2 1997.7 627.4 2000.1 626.0C2002.5 624.6 2004.9 624.1 2007.2 624.6C2009.6 625.1 2012.0 627.2 2014.4 628.8C2016.8 630.4 2018.9 632.8 2021.8 634.4C2024.6 636.0 2028.1 637.4 2031.3 638.6C2034.5 639.8 2038.0 639.5 2040.8 641.4C2043.6 643.3 2045.8 646.8 2048.2 649.8C2050.6 652.8 2052.7 657.1 2055.3 659.6C2057.9 662.2 2061.2 666.2 2063.7 665.2C2066.1 664.3 2067.8 658.7 2069.9 654.0C2071.9 649.3 2074.0 642.1 2075.8 637.2C2077.6 632.3 2079.2 624.6 2080.6 624.6C2082.0 624.6 2082.7 631.4 2084.1 637.2C2085.5 643.0 2087.3 654.5 2088.9 659.6C2090.5 664.8 2092.1 666.4 2093.9 668.0C2095.7 669.7 2097.9 670.1 2099.8 669.4C2101.8 668.7 2104.0 668.3 2105.8 663.8C2107.6 659.4 2109.3 654.5 2110.6 642.8C2111.8 631.1 2112.2 613.9 2113.2 593.8C2114.2 573.7 2115.6 548.2 2116.8 522.3C2117.9 496.4 2119.1 460.2 2120.3 438.3C2121.5 416.3 2122.5 400.4 2123.9 390.6C2125.3 380.8 2127.1 379.9 2128.7 379.4C2130.2 379.0 2132.0 385.3 2133.4 387.8C2134.8 390.4 2135.4 394.4 2137.2 394.8C2139.1 395.3 2142.0 392.0 2144.4 390.6C2146.8 389.2 2149.1 387.1 2151.5 386.4C2153.9 385.7 2156.6 385.3 2158.7 386.4C2160.7 387.6 2162.2 389.9 2163.7 393.4C2165.1 396.9 2165.8 400.7 2167.2 407.4C2168.6 414.2 2170.3 423.1 2172.0 434.1C2173.7 445.0 2175.8 461.6 2177.5 473.3C2179.1 485.0 2180.4 493.1 2182.0 504.1C2183.6 515.1 2185.3 525.1 2187.0 539.1C2188.7 553.1 2190.3 572.3 2192.0 588.2C2193.7 604.0 2195.3 620.9 2197.0 634.4C2198.7 647.9 2200.3 662.7 2202.0 669.4C2203.7 676.2 2205.5 677.8 2207.0 675.0C2208.5 672.2 2209.5 667.6 2210.8 652.6C2212.1 637.7 2213.3 605.0 2214.6 585.4C2215.9 565.8 2217.2 546.6 2218.4 534.9C2219.6 523.3 2220.7 516.3 2221.8 515.3C2222.8 514.4 2223.9 522.8 2224.8 529.3C2225.8 535.9 2226.7 551.0 2227.7 554.5C2228.7 558.0 2229.8 556.9 2231.0 550.3C2232.2 543.8 2233.6 526.3 2234.8 515.3C2236.1 504.3 2237.4 493.8 2238.7 484.5C2239.9 475.2 2241.2 466.0 2242.5 459.3C2243.7 452.5 2244.8 447.1 2246.3 443.9C2247.7 440.6 2249.4 440.6 2251.3 439.7C2253.1 438.7 2255.8 446.7 2257.5 438.3C2259.1 429.9 2260.6 397.4 2261.3 389.2" fill="none" stroke="#4d9fd6" stroke-width="2.4" stroke-linejoin="round"/>
<polyline points="1331.3,860.4 1334.4,855.8 1338.0,829.1 1340.1,867.0 1343.7,871.2 1347.5,878.2 1352.0,868.4 1356.3,875.4 1359.4,881.0 1362.5,844.6 1364.4,871.2 1368.7,867.0 1371.8,878.2 1376.8,868.4 1381.1,851.6 1383.0,827.7 1387.2,855.8 1389.2,824.9 1393.4,801.1 1397.5,829.1 1402.7,798.3 1404.9,837.5 1408.9,824.9 1412.0,848.8 1416.1,855.8 1419.2,820.7 1424.4,836.1 1428.4,791.3 1432.7,780.1 1436.8,775.9 1440.8,764.7 1445.1,749.3 1448.2,764.7 1449.2,726.9 1450.8,663.8 1451.8,654.0 1453.0,705.9 1454.2,666.6 1455.1,733.9 1456.5,675.0 1458.2,731.1 1459.4,679.2 1460.3,719.9 1461.5,638.6 1462.7,691.8 1464.6,805.3 1465.8,675.0 1467.0,726.9 1468.0,689.0 1469.2,711.5 1471.1,733.9 1473.4,747.9 1475.6,726.9 1477.7,719.9 1479.9,705.9 1482.2,696.0 1484.2,717.1 1486.1,728.3 1488.7,705.9 1490.8,682.0 1493.2,662.4 1494.2,572.8 1496.3,593.8 1498.7,600.8 1501.8,626.0 1505.1,634.4 1507.2,617.6 1509.4,593.8 1511.5,568.6 1513.7,579.8 1516.1,585.4 1518.2,614.8 1520.3,644.2 1523.4,649.8 1526.8,652.6 1531.3,658.2 1534.2,655.4 1536.5,649.8 1538.7,637.2 1542.0,620.4 1544.2,593.8 1547.7,560.1 1549.9,469.1 1552.7,455.1 1556.8,469.1 1559.6,463.5 1562.5,457.9 1565.3,410.2 1568.2,429.9 1571.5,455.1 1575.3,463.5 1577.2,477.5 1579.6,397.6 1581.8,355.6 1585.3,361.2 1589.4,386.4 1593.2,341.6 1595.1,372.4 1598.0,355.6 1600.8,397.6 1604.4,424.3 1607.2,469.1 1609.4,429.9 1612.2,438.3 1614.1,407.4 1616.3,352.8 1618.7,287.0 1621.5,267.3 1623.4,260.3 1626.3,301.0 1628.7,315.0 1630.6,364.0 1633.4,403.2 1636.3,415.8 1638.2,452.3 1640.6,495.7 1642.5,563.0 1644.9,620.4 1647.0,680.6 1651.3,686.2 1653.9,708.7 1659.1,698.8 1660.6,719.9" fill="none" stroke="#111" stroke-width="3.6" stroke-linejoin="round"/>
<path d="M1331.8 859.7h0 M1334.2 856.1h0 M1336.5 839.8h0 M1338.9 846.0h0 M1341.3 868.4h0 M1343.7 871.2h0 M1346.1 875.6h0 M1348.4 876.1h0 M1350.8 871.0h0 M1353.2 870.3h0 M1355.6 874.2h0 M1358.0 878.4h0 M1360.3 869.8h0 M1362.7 847.9h0 M1365.1 870.5h0 M1367.5 868.1h0 M1369.9 871.3h0 M1372.3 877.2h0 M1374.6 872.6h0 M1377.0 867.4h0 M1379.4 858.1h0 M1381.8 842.6h0 M1384.2 835.5h0 M1386.5 851.1h0 M1388.9 828.8h0 M1391.3 813.0h0 M1393.7 802.8h0 M1396.1 819.3h0 M1398.4 823.5h0 M1400.8 809.5h0 M1403.2 807.0h0 M1405.6 835.3h0 M1408.0 827.9h0 M1410.3 835.9h0 M1412.7 850.0h0 M1415.1 854.1h0 M1417.5 839.6h0 M1419.9 822.8h0 M1422.2 829.8h0 M1424.6 833.5h0 M1427.0 807.1h0 M1429.4 788.8h0 M1431.8 782.6h0 M1434.2 778.6h0 M1436.5 776.2h0 M1438.9 770.0h0 M1441.3 763.0h0 M1443.7 754.4h0 M1446.1 754.0h0 M1448.4 755.2h0 M1450.8 663.8h0 M1453.2 698.0h0 M1455.6 714.3h0 M1458.0 723.1h0 M1460.3 719.9h0 M1462.7 691.8h0 M1465.1 753.2h0 M1467.5 708.0h0 M1469.9 719.9h0 M1472.2 740.9h0 M1474.6 736.2h0 M1477.0 722.2h0 M1479.4 709.0h0 M1481.8 698.0h0 M1484.2 717.1h0 M1486.5 724.2h0 M1488.9 703.2h0 M1491.3 678.1h0 M1493.7 617.6h0 M1496.1 591.4h0 M1498.4 600.1h0 M1500.8 618.2h0 M1503.2 629.6h0 M1505.6 630.7h0 M1508.0 609.7h0 M1510.3 582.6h0 M1512.7 574.8h0 M1515.1 583.1h0 M1517.5 605.0h0 M1519.9 637.7h0 M1522.2 647.7h0 M1524.6 650.8h0 M1527.0 652.9h0 M1529.4 655.9h0 M1531.8 657.8h0 M1534.2 655.4h0 M1536.5 649.8h0 M1538.9 636.0h0 M1541.3 624.0h0 M1543.7 599.7h0 M1546.1 575.8h0 M1548.4 529.8h0 M1550.8 464.4h0 M1553.2 456.7h0 M1555.6 465.0h0 M1558.0 466.7h0 M1560.3 462.1h0 M1562.7 453.9h0 M1565.1 414.2h0 M1567.5 425.0h0 M1569.9 442.5h0 M1572.2 456.7h0 M1574.6 461.9h0 M1577.0 475.7h0 M1579.4 405.6h0 M1581.8 355.6h0 M1584.1 359.3h0 M1586.5 368.6h0 M1588.9 383.5h0 M1591.3 364.0h0 M1593.7 349.3h0 M1596.1 366.8h0 M1598.4 362.6h0 M1600.8 397.6h0 M1603.2 415.4h0 M1605.6 442.9h0 M1608.0 456.0h0 M1610.3 432.7h0 M1612.7 430.6h0 M1615.1 383.2h0 M1617.5 319.9h0 M1619.9 278.8h0 M1622.2 264.7h0 M1624.6 277.3h0 M1627.0 305.2h0 M1629.4 333.4h0 M1631.8 380.4h0 M1634.1 406.4h0 M1636.5 420.4h0 M1638.9 465.3h0 M1641.3 520.9h0 M1643.7 591.7h0 M1646.1 653.9h0 M1648.4 682.5h0 M1650.8 685.6h0 M1653.2 702.5h0 M1655.6 705.5h0 M1658.0 701.1h0 M1660.3 716.4h0" stroke="#000" stroke-width="5.5" stroke-linecap="square" fill="none"/>
<polyline points="1795.8,738.1 1798.0,710.1 1800.8,693.2 1803.4,661.0 1806.3,641.4 1808.9,616.2 1811.8,595.2 1814.4,572.8 1817.2,554.5 1819.9,532.1 1822.0,519.5 1824.1,502.7 1826.8,522.3 1829.6,523.7 1832.2,494.3 1835.1,537.7 1837.0,557.3 1839.1,532.1 1842.0,516.7 1844.6,526.5 1847.0,534.9 1848.9,498.5 1850.8,543.3 1853.0,554.5 1857.0,557.3 1859.9,563.0 1861.3,600.8 1863.9,619.0 1865.3,644.2 1868.2,624.6 1870.8,606.4 1873.0,647.0 1874.9,668.0 1877.2,630.2 1880.6,614.8 1884.6,609.2 1888.7,606.4 1891.5,630.2 1894.1,647.0 1899.6,661.0 1903.9,641.4 1908.0,621.8 1910.8,635.8 1913.4,619.0 1916.3,557.3 1917.7,644.2 1920.3,619.0 1921.8,649.8 1924.4,684.8 1927.2,698.8 1930.1,719.9 1932.7,739.5 1936.8,747.9 1941.0,742.3 1943.7,768.9 1947.9,756.3 1952.0,747.9 1956.0,745.1 1960.3,711.5 1965.8,717.1 1971.3,698.8 1975.3,717.1 1978.2,690.4 1980.8,707.3 1985.6,697.4 1990.3,717.1 1995.3,700.2 2000.1,693.2 2004.9,701.7 2009.6,707.3 2014.4,711.5 2020.6,715.7 2025.3,717.1 2028.9,694.6 2032.5,710.1 2037.2,718.5 2043.4,726.9 2047.0,697.4 2050.6,714.3 2054.1,733.9 2057.7,717.1 2060.1,754.9 2063.7,764.7 2066.3,724.1 2068.7,571.4 2071.0,627.4 2073.4,701.7 2078.2,694.6 2081.8,707.3 2085.3,718.5 2090.3,728.3 2093.9,735.3 2098.7,733.9 2102.2,743.7 2105.8,754.9 2108.2,767.5 2111.8,757.7 2115.6,752.1 2117.9,726.9 2119.1,676.4 2121.0,585.4 2122.7,431.3 2126.3,403.2 2128.7,429.9 2131.0,410.2 2133.4,424.3 2134.6,410.2 2137.2,457.9 2139.6,532.1 2143.2,541.9 2146.3,544.7 2147.9,511.1 2150.3,488.7 2152.7,477.5 2156.3,474.7 2159.8,470.5 2161.8,485.9 2164.8,519.5 2167.2,532.1 2170.6,554.5 2176.8,560.1 2179.4,577.0 2182.0,605.0 2185.8,612.0 2188.2,620.4 2189.4,652.6 2192.0,691.8 2194.4,717.1 2197.0,750.7 2200.8,756.3 2203.4,745.1 2205.8,714.3 2208.4,682.0 2210.8,649.8 2213.4,644.2 2215.3,614.8 2219.6,620.4 2223.4,647.0 2226.0,663.8 2228.4,649.8 2229.8,592.4 2233.7,617.6 2234.8,591.0 2237.5,570.0 2241.0,567.2 2242.5,544.7 2244.8,537.7 2247.5,561.6 2249.8,516.7 2253.7,525.1 2257.0,547.5 2258.9,529.3 2260.1,466.3 2261.3,417.2 2263.9,466.3" fill="none" stroke="#111" stroke-width="3.6" stroke-linejoin="round"/>
<path d="M1796.0 735.0h0 M1798.4 707.3h0 M1800.8 693.2h0 M1803.2 664.0h0 M1805.6 646.3h0 M1808.0 625.4h0 M1810.3 605.7h0 M1812.7 587.0h0 M1815.1 568.2h0 M1817.5 552.5h0 M1819.9 532.1h0 M1822.2 517.7h0 M1824.6 506.3h0 M1827.0 522.4h0 M1829.4 523.6h0 M1831.8 499.7h0 M1834.1 523.3h0 M1836.5 552.4h0 M1838.9 534.9h0 M1841.3 520.6h0 M1843.7 523.0h0 M1846.0 531.6h0 M1848.4 507.6h0 M1850.8 543.3h0 M1853.2 554.7h0 M1855.6 556.4h0 M1858.0 559.2h0 M1860.3 575.6h0 M1862.7 610.7h0 M1865.1 640.0h0 M1867.5 629.5h0 M1869.9 613.0h0 M1872.2 633.5h0 M1874.6 665.4h0 M1877.0 634.0h0 M1879.4 620.3h0 M1881.8 613.1h0 M1884.1 609.8h0 M1886.5 607.9h0 M1888.9 608.4h0 M1891.3 628.2h0 M1893.7 644.0h0 M1896.0 651.9h0 M1898.4 658.0h0 M1900.8 655.6h0 M1903.2 644.7h0 M1905.6 633.3h0 M1908.0 621.8h0 M1910.3 633.5h0 M1912.7 623.6h0 M1915.1 583.0h0 M1917.5 629.7h0 M1919.9 623.6h0 M1922.2 656.2h0 M1924.6 686.0h0 M1927.0 697.7h0 M1929.4 714.6h0 M1931.8 732.3h0 M1934.1 742.4h0 M1936.5 747.4h0 M1938.9 745.1h0 M1941.3 744.7h0 M1943.7 768.9h0 M1946.0 761.9h0 M1948.4 755.3h0 M1950.8 750.4h0 M1953.2 747.1h0 M1955.6 745.4h0 M1957.9 730.1h0 M1960.3 711.5h0 M1962.7 713.9h0 M1965.1 716.3h0 M1967.5 711.5h0 M1969.9 703.6h0 M1972.2 703.1h0 M1974.6 713.8h0 M1977.0 701.5h0 M1979.4 698.1h0 M1981.8 705.3h0 M1984.1 700.4h0 M1986.5 701.4h0 M1988.9 711.2h0 M1991.3 713.9h0 M1993.7 705.9h0 M1996.0 699.2h0 M1998.4 695.7h0 M2000.8 694.5h0 M2003.2 698.7h0 M2005.6 702.5h0 M2007.9 705.3h0 M2010.3 707.9h0 M2012.7 710.0h0 M2015.1 711.9h0 M2017.5 713.6h0 M2019.9 715.2h0 M2022.2 716.2h0 M2024.6 716.9h0 M2027.0 706.6h0 M2029.4 696.7h0 M2031.8 707.0h0 M2034.1 713.0h0 M2036.5 717.2h0 M2038.9 720.7h0 M2041.3 724.0h0 M2043.7 724.9h0 M2046.0 705.3h0 M2048.4 704.2h0 M2050.8 715.6h0 M2053.2 728.6h0 M2055.6 727.1h0 M2057.9 720.8h0 M2060.3 755.5h0 M2062.7 762.1h0 M2065.1 742.5h0 M2067.5 647.7h0 M2069.9 599.4h0 M2072.2 664.5h0 M2074.6 699.9h0 M2077.0 696.4h0 M2079.4 698.8h0 M2081.8 707.3h0 M2084.1 714.7h0 M2086.5 720.8h0 M2088.9 725.5h0 M2091.3 730.1h0 M2093.7 734.8h0 M2096.0 734.6h0 M2098.4 733.9h0 M2100.8 739.8h0 M2103.2 746.7h0 M2105.6 754.1h0 M2107.9 766.2h0 M2110.3 761.6h0 M2112.7 756.3h0 M2115.1 752.8h0 M2117.5 731.9h0 M2119.8 642.3h0 M2122.2 475.3h0 M2124.6 416.3h0 M2127.0 411.2h0 M2129.4 424.0h0 M2131.8 414.4h0 M2134.1 415.8h0 M2136.5 444.9h0 M2138.9 509.9h0 M2141.3 536.7h0 M2143.7 542.4h0 M2146.0 544.5h0 M2148.4 506.6h0 M2150.8 486.5h0 M2153.2 477.1h0 M2155.6 475.2h0 M2157.9 472.7h0 M2160.3 474.3h0 M2162.7 496.2h0 M2165.1 520.8h0 M2167.5 533.7h0 M2169.8 549.7h0 M2172.2 556.1h0 M2174.6 558.2h0 M2177.0 561.7h0 M2179.4 577.0h0 M2181.8 602.4h0 M2184.1 608.9h0 M2186.5 614.5h0 M2188.9 639.7h0 M2191.3 681.1h0 M2193.7 709.5h0 M2196.0 738.5h0 M2198.4 752.8h0 M2200.8 756.3h0 M2203.2 746.1h0 M2205.6 717.3h0 M2207.9 687.9h0 M2210.3 656.3h0 M2212.7 645.7h0 M2215.1 618.5h0 M2217.5 617.6h0 M2219.8 622.1h0 M2222.2 638.7h0 M2224.6 654.7h0 M2227.0 658.2h0 M2229.4 611.5h0 M2231.8 605.0h0 M2234.1 606.9h0 M2236.5 577.6h0 M2238.9 568.8h0 M2241.3 563.4h0 M2243.7 541.2h0 M2246.0 548.6h0 M2248.4 543.6h0 M2250.8 518.8h0 M2253.2 524.1h0 M2255.6 537.9h0 M2257.9 538.4h0 M2260.3 456.5h0 M2262.7 444.0h0" stroke="#000" stroke-width="5.5" stroke-linecap="square" fill="none"/>
<line x1="1291.3" y1="910.4" x2="1291.3" y2="899.4" stroke="#777777" stroke-width="2.4"/>
<line x1="1291.3" y1="69.8" x2="1291.3" y2="80.8" stroke="#777777" stroke-width="2.4"/>
<line x1="1410.3" y1="910.4" x2="1410.3" y2="899.4" stroke="#777777" stroke-width="2.4"/>
<line x1="1410.3" y1="69.8" x2="1410.3" y2="80.8" stroke="#777777" stroke-width="2.4"/>
<line x1="1529.4" y1="910.4" x2="1529.4" y2="899.4" stroke="#777777" stroke-width="2.4"/>
<line x1="1529.4" y1="69.8" x2="1529.4" y2="80.8" stroke="#777777" stroke-width="2.4"/>
<line x1="1648.4" y1="910.4" x2="1648.4" y2="899.4" stroke="#777777" stroke-width="2.4"/>
<line x1="1648.4" y1="69.8" x2="1648.4" y2="80.8" stroke="#777777" stroke-width="2.4"/>
<line x1="1767.5" y1="910.4" x2="1767.5" y2="899.4" stroke="#777777" stroke-width="2.4"/>
<line x1="1767.5" y1="69.8" x2="1767.5" y2="80.8" stroke="#777777" stroke-width="2.4"/>
<line x1="1886.5" y1="910.4" x2="1886.5" y2="899.4" stroke="#777777" stroke-width="2.4"/>
<line x1="1886.5" y1="69.8" x2="1886.5" y2="80.8" stroke="#777777" stroke-width="2.4"/>
<line x1="2005.6" y1="910.4" x2="2005.6" y2="899.4" stroke="#777777" stroke-width="2.4"/>
<line x1="2005.6" y1="69.8" x2="2005.6" y2="80.8" stroke="#777777" stroke-width="2.4"/>
<line x1="2124.6" y1="910.4" x2="2124.6" y2="899.4" stroke="#777777" stroke-width="2.4"/>
<line x1="2124.6" y1="69.8" x2="2124.6" y2="80.8" stroke="#777777" stroke-width="2.4"/>
<line x1="2243.7" y1="910.4" x2="2243.7" y2="899.4" stroke="#777777" stroke-width="2.4"/>
<line x1="2243.7" y1="69.8" x2="2243.7" y2="80.8" stroke="#777777" stroke-width="2.4"/>
<line x1="2362.7" y1="910.4" x2="2362.7" y2="899.4" stroke="#777777" stroke-width="2.4"/>
<line x1="2362.7" y1="69.8" x2="2362.7" y2="80.8" stroke="#777777" stroke-width="2.4"/>
<line x1="1291.3" y1="910.4" x2="1302.3" y2="910.4" stroke="#777777" stroke-width="2.4"/>
<line x1="2362.7" y1="910.4" x2="2351.7" y2="910.4" stroke="#777777" stroke-width="2.4"/>
<line x1="1291.3" y1="770.3" x2="1302.3" y2="770.3" stroke="#777777" stroke-width="2.4"/>
<line x1="2362.7" y1="770.3" x2="2351.7" y2="770.3" stroke="#777777" stroke-width="2.4"/>
<line x1="1291.3" y1="630.2" x2="1302.3" y2="630.2" stroke="#777777" stroke-width="2.4"/>
<line x1="2362.7" y1="630.2" x2="2351.7" y2="630.2" stroke="#777777" stroke-width="2.4"/>
<line x1="1291.3" y1="490.1" x2="1302.3" y2="490.1" stroke="#777777" stroke-width="2.4"/>
<line x1="2362.7" y1="490.1" x2="2351.7" y2="490.1" stroke="#777777" stroke-width="2.4"/>
<line x1="1291.3" y1="350.0" x2="1302.3" y2="350.0" stroke="#777777" stroke-width="2.4"/>
<line x1="2362.7" y1="350.0" x2="2351.7" y2="350.0" stroke="#777777" stroke-width="2.4"/>
<line x1="1291.3" y1="209.9" x2="1302.3" y2="209.9" stroke="#777777" stroke-width="2.4"/>
<line x1="2362.7" y1="209.9" x2="2351.7" y2="209.9" stroke="#777777" stroke-width="2.4"/>
<line x1="1291.3" y1="69.8" x2="1302.3" y2="69.8" stroke="#777777" stroke-width="2.4"/>
<line x1="2362.7" y1="69.8" x2="2351.7" y2="69.8" stroke="#777777" stroke-width="2.4"/>
<rect x="1291.3" y="69.8" width="1071.4" height="840.6" fill="none" stroke="#777777" stroke-width="3.2"/>
<text x="1291.3" y="959.5" font-size="34.0" fill="#3a3a3a" text-anchor="middle" font-weight="normal" >100</text>
<text x="1410.3" y="959.5" font-size="34.0" fill="#3a3a3a" text-anchor="middle" font-weight="normal" >150</text>
<text x="1529.4" y="959.5" font-size="34.0" fill="#3a3a3a" text-anchor="middle" font-weight="normal" >200</text>
<text x="1648.4" y="959.5" font-size="34.0" fill="#3a3a3a" text-anchor="middle" font-weight="normal" >250</text>
<text x="1767.5" y="959.5" font-size="34.0" fill="#3a3a3a" text-anchor="middle" font-weight="normal" >300</text>
<text x="1886.5" y="959.5" font-size="34.0" fill="#3a3a3a" text-anchor="middle" font-weight="normal" >350</text>
<text x="2005.6" y="959.5" font-size="34.0" fill="#3a3a3a" text-anchor="middle" font-weight="normal" >400</text>
<text x="2124.6" y="959.5" font-size="34.0" fill="#3a3a3a" text-anchor="middle" font-weight="normal" >450</text>
<text x="2243.7" y="959.5" font-size="34.0" fill="#3a3a3a" text-anchor="middle" font-weight="normal" >500</text>
<text x="2362.7" y="959.5" font-size="34.0" fill="#3a3a3a" text-anchor="middle" font-weight="normal" >550</text>
<text x="1274.8" y="923.2" font-size="35.0" fill="#3a3a3a" text-anchor="end" font-weight="normal" >0</text>
<text x="1274.8" y="783.1" font-size="35.0" fill="#3a3a3a" text-anchor="end" font-weight="normal" >1</text>
<text x="1274.8" y="643.0" font-size="35.0" fill="#3a3a3a" text-anchor="end" font-weight="normal" >2</text>
<text x="1274.8" y="502.9" font-size="35.0" fill="#3a3a3a" text-anchor="end" font-weight="normal" >3</text>
<text x="1274.8" y="362.8" font-size="35.0" fill="#3a3a3a" text-anchor="end" font-weight="normal" >4</text>
<text x="1274.8" y="222.7" font-size="35.0" fill="#3a3a3a" text-anchor="end" font-weight="normal" >5</text>
<text x="1274.8" y="82.6" font-size="35.0" fill="#3a3a3a" text-anchor="end" font-weight="normal" >6</text>
<text transform="translate(1237.3 490.1) rotate(-90)" x="0" y="0" font-size="37" fill="#3a3a3a" text-anchor="middle">SWH /m</text>
<text x="1307.5" y="142.2" font-size="52.0" fill="#000" text-anchor="start" font-weight="bold" textLength="63.0" lengthAdjust="spacingAndGlyphs" >(b)</text>
<rect x="1961.0" y="95.4" width="376.0" height="88.3" fill="#fff" stroke="#777777" stroke-width="2.4"/>
<line x1="1971.0" y1="119.4" x2="2068.0" y2="119.4" stroke="#4d9fd6" stroke-width="2.6"/>
<line x1="1971.0" y1="160.4" x2="2068.0" y2="160.4" stroke="#111" stroke-width="3.6"/>
<circle cx="2019.0" cy="160.4" r="3.5" fill="#000"/>
<text x="2077.0" y="131.9" font-size="29.0" fill="#3a3a3a" text-anchor="start" font-weight="normal" textLength="252.0" lengthAdjust="spacingAndGlyphs" >SWH from ECMWF</text>
<text x="2077.0" y="171.7" font-size="29.0" fill="#3a3a3a" text-anchor="start" font-weight="normal" textLength="190.5" lengthAdjust="spacingAndGlyphs" >SWH by MLE4</text>
<text x="1527.3" y="855.7" font-size="34.0" fill="#3a3a3a" text-anchor="start" font-weight="normal" textLength="566.5" lengthAdjust="spacingAndGlyphs" >RMSE= 0.50776 , Mean Bias= 0.34146</text>
<text x="1579.0" y="38.4" font-size="37.5" fill="#3a3a3a" textLength="487.0" lengthAdjust="spacingAndGlyphs">CFO<tspan font-size="22.5" font-weight="bold" dy="14.2">-</tspan><tspan dy="-14.2">OP05</tspan><tspan font-size="22.5" font-weight="bold" dy="14.2">-</tspan><tspan dy="-14.2">SWI</tspan><tspan font-size="22.5" font-weight="bold" dy="14.2">-</tspan><tspan dy="-14.2">L1A</tspan><tspan font-size="22.5" font-weight="bold" dy="14.2">-</tspan><tspan dy="-14.2">---812.nc</tspan></text>
<text x="1530.0" y="1005.7" font-size="34.5" fill="#4a4a4a" text-anchor="start" font-weight="normal" textLength="581.0" lengthAdjust="spacingAndGlyphs" xml:space="preserve">Nadir__SWH__Box&#160;&#160;&#160;Sampling Point</text>
</g>
<g>
<line x1="266.2" y1="1076.1" x2="266.2" y2="1910.8" stroke="#cccccc" stroke-width="1.1" stroke-dasharray="1.6 2.6"/>
<line x1="84.8" y1="1771.7" x2="1172.9" y2="1771.7" stroke="#cccccc" stroke-width="1.1" stroke-dasharray="1.6 2.6"/>
<line x1="447.5" y1="1076.1" x2="447.5" y2="1910.8" stroke="#cccccc" stroke-width="1.1" stroke-dasharray="1.6 2.6"/>
<line x1="84.8" y1="1632.6" x2="1172.9" y2="1632.6" stroke="#cccccc" stroke-width="1.1" stroke-dasharray="1.6 2.6"/>
<line x1="628.9" y1="1076.1" x2="628.9" y2="1910.8" stroke="#cccccc" stroke-width="1.1" stroke-dasharray="1.6 2.6"/>
<line x1="84.8" y1="1493.4" x2="1172.9" y2="1493.4" stroke="#cccccc" stroke-width="1.1" stroke-dasharray="1.6 2.6"/>
<line x1="810.2" y1="1076.1" x2="810.2" y2="1910.8" stroke="#cccccc" stroke-width="1.1" stroke-dasharray="1.6 2.6"/>
<line x1="84.8" y1="1354.3" x2="1172.9" y2="1354.3" stroke="#cccccc" stroke-width="1.1" stroke-dasharray="1.6 2.6"/>
<line x1="991.6" y1="1076.1" x2="991.6" y2="1910.8" stroke="#cccccc" stroke-width="1.1" stroke-dasharray="1.6 2.6"/>
<line x1="84.8" y1="1215.2" x2="1172.9" y2="1215.2" stroke="#cccccc" stroke-width="1.1" stroke-dasharray="1.6 2.6"/>
<path d="M903.1 1247.4h7.2l6.7 6.7v7.2l-6.7 6.7h-7.2l-6.7-6.7v-7.2zM892.7 1257.7h7.2l6.7 6.7v7.2l-6.7 6.7h-7.2l-6.7-6.7v-7.2zM871.9 1275.9h7.2l6.7 6.7v7.2l-6.7 6.7h-7.2l-6.7-6.7v-7.2zM895.3 1291.5h7.2l6.7 6.7v7.2l-6.7 6.7h-7.2l-6.7-6.7v-7.2zM869.4 1301.9h7.2l6.7 6.7v7.2l-6.7 6.7h-7.2l-6.7-6.7v-7.2zM1014.7 1325.2h7.2l6.7 6.7v7.2l-6.7 6.7h-7.2l-6.7-6.7v-7.2zM991.3 1338.2h7.2l6.7 6.7v7.2l-6.7 6.7h-7.2l-6.7-6.7v-7.2zM970.6 1347.0h7.2l6.7 6.7v7.2l-6.7 6.7h-7.2l-6.7-6.7v-7.2zM1001.7 1348.6h7.2l6.7 6.7v7.2l-6.7 6.7h-7.2l-6.7-6.7v-7.2zM1009.5 1364.2h7.2l6.7 6.7v7.2l-6.7 6.7h-7.2l-6.7-6.7v-7.2zM1014.7 1374.5h7.2l6.7 6.7v7.2l-6.7 6.7h-7.2l-6.7-6.7v-7.2zM859.0 1340.8h7.2l6.7 6.7v7.2l-6.7 6.7h-7.2l-6.7-6.7v-7.2zM825.2 1348.6h7.2l6.7 6.7v7.2l-6.7 6.7h-7.2l-6.7-6.7v-7.2zM931.6 1387.5h7.2l6.7 6.7v7.2l-6.7 6.7h-7.2l-6.7-6.7v-7.2zM968.0 1382.3h7.2l6.7 6.7v7.2l-6.7 6.7h-7.2l-6.7-6.7v-7.2zM768.1 1383.4h7.2l6.7 6.7v7.2l-6.7 6.7h-7.2l-6.7-6.7v-7.2zM775.9 1388.5h7.2l6.7 6.7v7.2l-6.7 6.7h-7.2l-6.7-6.7v-7.2zM747.4 1392.7h7.2l6.7 6.7v7.2l-6.7 6.7h-7.2l-6.7-6.7v-7.2zM718.8 1402.0h7.2l6.7 6.7v7.2l-6.7 6.7h-7.2l-6.7-6.7v-7.2zM755.2 1403.1h7.2l6.7 6.7v7.2l-6.7 6.7h-7.2l-6.7-6.7v-7.2zM765.5 1412.4h7.2l6.7 6.7v7.2l-6.7 6.7h-7.2l-6.7-6.7v-7.2zM742.2 1417.6h7.2l6.7 6.7v7.2l-6.7 6.7h-7.2l-6.7-6.7v-7.2zM853.8 1390.1h7.2l6.7 6.7v7.2l-6.7 6.7h-7.2l-6.7-6.7v-7.2zM871.9 1395.3h7.2l6.7 6.7v7.2l-6.7 6.7h-7.2l-6.7-6.7v-7.2zM890.1 1393.7h7.2l6.7 6.7v7.2l-6.7 6.7h-7.2l-6.7-6.7v-7.2zM905.7 1410.9h7.2l6.7 6.7v7.2l-6.7 6.7h-7.2l-6.7-6.7v-7.2zM887.5 1417.6h7.2l6.7 6.7v7.2l-6.7 6.7h-7.2l-6.7-6.7v-7.2zM866.8 1410.9h7.2l6.7 6.7v7.2l-6.7 6.7h-7.2l-6.7-6.7v-7.2zM856.4 1423.8h7.2l6.7 6.7v7.2l-6.7 6.7h-7.2l-6.7-6.7v-7.2zM659.1 1438.4h7.2l6.7 6.7v7.2l-6.7 6.7h-7.2l-6.7-6.7v-7.2zM708.4 1448.8h7.2l6.7 6.7v7.2l-6.7 6.7h-7.2l-6.7-6.7v-7.2zM744.8 1442.0h7.2l6.7 6.7v7.2l-6.7 6.7h-7.2l-6.7-6.7v-7.2zM752.6 1452.4h7.2l6.7 6.7v7.2l-6.7 6.7h-7.2l-6.7-6.7v-7.2zM755.2 1462.8h7.2l6.7 6.7v7.2l-6.7 6.7h-7.2l-6.7-6.7v-7.2zM782.2 1439.4h7.2l6.7 6.7v7.2l-6.7 6.7h-7.2l-6.7-6.7v-7.2zM818.5 1443.6h7.2l6.7 6.7v7.2l-6.7 6.7h-7.2l-6.7-6.7v-7.2zM864.2 1439.4h7.2l6.7 6.7v7.2l-6.7 6.7h-7.2l-6.7-6.7v-7.2zM882.3 1439.4h7.2l6.7 6.7v7.2l-6.7 6.7h-7.2l-6.7-6.7v-7.2zM883.9 1453.9h7.2l6.7 6.7v7.2l-6.7 6.7h-7.2l-6.7-6.7v-7.2zM846.0 1460.2h7.2l6.7 6.7v7.2l-6.7 6.7h-7.2l-6.7-6.7v-7.2zM859.0 1457.6h7.2l6.7 6.7v7.2l-6.7 6.7h-7.2l-6.7-6.7v-7.2zM724.0 1479.4h7.2l6.7 6.7v7.2l-6.7 6.7h-7.2l-6.7-6.7v-7.2zM752.6 1480.9h7.2l6.7 6.7v7.2l-6.7 6.7h-7.2l-6.7-6.7v-7.2zM801.9 1475.7h7.2l6.7 6.7v7.2l-6.7 6.7h-7.2l-6.7-6.7v-7.2zM817.4 1482.0h7.2l6.7 6.7v7.2l-6.7 6.7h-7.2l-6.7-6.7v-7.2zM608.8 1482.5h7.2l6.7 6.7v7.2l-6.7 6.7h-7.2l-6.7-6.7v-7.2zM755.2 1496.5h7.2l6.7 6.7v7.2l-6.7 6.7h-7.2l-6.7-6.7v-7.2zM778.5 1496.5h7.2l6.7 6.7v7.2l-6.7 6.7h-7.2l-6.7-6.7v-7.2zM765.5 1504.3h7.2l6.7 6.7v7.2l-6.7 6.7h-7.2l-6.7-6.7v-7.2zM817.4 1504.3h7.2l6.7 6.7v7.2l-6.7 6.7h-7.2l-6.7-6.7v-7.2zM804.5 1514.7h7.2l6.7 6.7v7.2l-6.7 6.7h-7.2l-6.7-6.7v-7.2zM687.7 1499.1h7.2l6.7 6.7v7.2l-6.7 6.7h-7.2l-6.7-6.7v-7.2zM708.4 1511.0h7.2l6.7 6.7v7.2l-6.7 6.7h-7.2l-6.7-6.7v-7.2zM729.2 1507.9h7.2l6.7 6.7v7.2l-6.7 6.7h-7.2l-6.7-6.7v-7.2zM744.8 1517.3h7.2l6.7 6.7v7.2l-6.7 6.7h-7.2l-6.7-6.7v-7.2zM752.6 1525.1h7.2l6.7 6.7v7.2l-6.7 6.7h-7.2l-6.7-6.7v-7.2zM791.5 1525.1h7.2l6.7 6.7v7.2l-6.7 6.7h-7.2l-6.7-6.7v-7.2zM794.1 1534.4h7.2l6.7 6.7v7.2l-6.7 6.7h-7.2l-6.7-6.7v-7.2zM674.7 1517.3h7.2l6.7 6.7v7.2l-6.7 6.7h-7.2l-6.7-6.7v-7.2zM653.9 1527.7h7.2l6.7 6.7v7.2l-6.7 6.7h-7.2l-6.7-6.7v-7.2zM641.0 1535.4h7.2l6.7 6.7v7.2l-6.7 6.7h-7.2l-6.7-6.7v-7.2zM677.3 1535.4h7.2l6.7 6.7v7.2l-6.7 6.7h-7.2l-6.7-6.7v-7.2zM700.7 1530.2h7.2l6.7 6.7v7.2l-6.7 6.7h-7.2l-6.7-6.7v-7.2zM718.8 1540.6h7.2l6.7 6.7v7.2l-6.7 6.7h-7.2l-6.7-6.7v-7.2zM612.4 1539.1h7.2l6.7 6.7v7.2l-6.7 6.7h-7.2l-6.7-6.7v-7.2zM630.6 1543.2h7.2l6.7 6.7v7.2l-6.7 6.7h-7.2l-6.7-6.7v-7.2zM651.4 1551.0h7.2l6.7 6.7v7.2l-6.7 6.7h-7.2l-6.7-6.7v-7.2zM615.0 1556.2h7.2l6.7 6.7v7.2l-6.7 6.7h-7.2l-6.7-6.7v-7.2zM757.8 1551.0h7.2l6.7 6.7v7.2l-6.7 6.7h-7.2l-6.7-6.7v-7.2zM555.3 1535.4h7.2l6.7 6.7v7.2l-6.7 6.7h-7.2l-6.7-6.7v-7.2zM559.0 1547.4h7.2l6.7 6.7v7.2l-6.7 6.7h-7.2l-6.7-6.7v-7.2zM713.6 1562.9h7.2l6.7 6.7v7.2l-6.7 6.7h-7.2l-6.7-6.7v-7.2zM692.9 1569.2h7.2l6.7 6.7v7.2l-6.7 6.7h-7.2l-6.7-6.7v-7.2zM638.4 1568.1h7.2l6.7 6.7v7.2l-6.7 6.7h-7.2l-6.7-6.7v-7.2zM677.3 1577.0h7.2l6.7 6.7v7.2l-6.7 6.7h-7.2l-6.7-6.7v-7.2zM664.3 1582.2h7.2l6.7 6.7v7.2l-6.7 6.7h-7.2l-6.7-6.7v-7.2zM692.9 1577.0h7.2l6.7 6.7v7.2l-6.7 6.7h-7.2l-6.7-6.7v-7.2zM591.7 1566.6h7.2l6.7 6.7v7.2l-6.7 6.7h-7.2l-6.7-6.7v-7.2zM581.3 1577.0h7.2l6.7 6.7v7.2l-6.7 6.7h-7.2l-6.7-6.7v-7.2zM633.2 1595.1h7.2l6.7 6.7v7.2l-6.7 6.7h-7.2l-6.7-6.7v-7.2zM609.8 1602.9h7.2l6.7 6.7v7.2l-6.7 6.7h-7.2l-6.7-6.7v-7.2zM408.4 1554.6h7.2l6.7 6.7v7.2l-6.7 6.7h-7.2l-6.7-6.7v-7.2zM461.9 1557.8h7.2l6.7 6.7v7.2l-6.7 6.7h-7.2l-6.7-6.7v-7.2zM461.9 1587.3h7.2l6.7 6.7v7.2l-6.7 6.7h-7.2l-6.7-6.7v-7.2zM485.3 1585.8h7.2l6.7 6.7v7.2l-6.7 6.7h-7.2l-6.7-6.7v-7.2zM427.1 1612.3h7.2l6.7 6.7v7.2l-6.7 6.7h-7.2l-6.7-6.7v-7.2zM376.3 1622.6h7.2l6.7 6.7v7.2l-6.7 6.7h-7.2l-6.7-6.7v-7.2zM459.3 1610.7h7.2l6.7 6.7v7.2l-6.7 6.7h-7.2l-6.7-6.7v-7.2zM498.2 1595.1h7.2l6.7 6.7v7.2l-6.7 6.7h-7.2l-6.7-6.7v-7.2zM477.5 1610.7h7.2l6.7 6.7v7.2l-6.7 6.7h-7.2l-6.7-6.7v-7.2zM446.3 1631.5h7.2l6.7 6.7v7.2l-6.7 6.7h-7.2l-6.7-6.7v-7.2zM547.5 1571.8h7.2l6.7 6.7v7.2l-6.7 6.7h-7.2l-6.7-6.7v-7.2zM532.0 1584.7h7.2l6.7 6.7v7.2l-6.7 6.7h-7.2l-6.7-6.7v-7.2zM557.9 1584.7h7.2l6.7 6.7v7.2l-6.7 6.7h-7.2l-6.7-6.7v-7.2zM573.5 1589.9h7.2l6.7 6.7v7.2l-6.7 6.7h-7.2l-6.7-6.7v-7.2zM521.6 1600.3h7.2l6.7 6.7v7.2l-6.7 6.7h-7.2l-6.7-6.7v-7.2zM537.2 1600.3h7.2l6.7 6.7v7.2l-6.7 6.7h-7.2l-6.7-6.7v-7.2zM552.7 1600.3h7.2l6.7 6.7v7.2l-6.7 6.7h-7.2l-6.7-6.7v-7.2zM568.3 1600.3h7.2l6.7 6.7v7.2l-6.7 6.7h-7.2l-6.7-6.7v-7.2zM586.5 1600.3h7.2l6.7 6.7v7.2l-6.7 6.7h-7.2l-6.7-6.7v-7.2zM526.8 1615.9h7.2l6.7 6.7v7.2l-6.7 6.7h-7.2l-6.7-6.7v-7.2zM542.4 1615.9h7.2l6.7 6.7v7.2l-6.7 6.7h-7.2l-6.7-6.7v-7.2zM557.9 1615.9h7.2l6.7 6.7v7.2l-6.7 6.7h-7.2l-6.7-6.7v-7.2zM573.5 1615.9h7.2l6.7 6.7v7.2l-6.7 6.7h-7.2l-6.7-6.7v-7.2zM589.1 1615.9h7.2l6.7 6.7v7.2l-6.7 6.7h-7.2l-6.7-6.7v-7.2zM537.2 1631.5h7.2l6.7 6.7v7.2l-6.7 6.7h-7.2l-6.7-6.7v-7.2zM552.7 1634.1h7.2l6.7 6.7v7.2l-6.7 6.7h-7.2l-6.7-6.7v-7.2zM570.9 1634.1h7.2l6.7 6.7v7.2l-6.7 6.7h-7.2l-6.7-6.7v-7.2zM583.9 1626.3h7.2l6.7 6.7v7.2l-6.7 6.7h-7.2l-6.7-6.7v-7.2zM511.2 1621.1h7.2l6.7 6.7v7.2l-6.7 6.7h-7.2l-6.7-6.7v-7.2zM495.6 1623.7h7.2l6.7 6.7v7.2l-6.7 6.7h-7.2l-6.7-6.7v-7.2zM485.3 1634.1h7.2l6.7 6.7v7.2l-6.7 6.7h-7.2l-6.7-6.7v-7.2zM503.4 1662.6h7.2l6.7 6.7v7.2l-6.7 6.7h-7.2l-6.7-6.7v-7.2zM490.4 1605.5h7.2l6.7 6.7v7.2l-6.7 6.7h-7.2l-6.7-6.7v-7.2zM508.6 1605.5h7.2l6.7 6.7v7.2l-6.7 6.7h-7.2l-6.7-6.7v-7.2zM629.6 1657.4h7.2l6.7 6.7v7.2l-6.7 6.7h-7.2l-6.7-6.7v-7.2zM544.9 1669.4h7.2l6.7 6.7v7.2l-6.7 6.7h-7.2l-6.7-6.7v-7.2zM536.1 1684.9h7.2l6.7 6.7v7.2l-6.7 6.7h-7.2l-6.7-6.7v-7.2zM556.9 1704.1h7.2l6.7 6.7v7.2l-6.7 6.7h-7.2l-6.7-6.7v-7.2zM543.9 1716.1h7.2l6.7 6.7v7.2l-6.7 6.7h-7.2l-6.7-6.7v-7.2zM488.9 1728.5h7.2l6.7 6.7v7.2l-6.7 6.7h-7.2l-6.7-6.7v-7.2zM441.1 1736.8h7.2l6.7 6.7v7.2l-6.7 6.7h-7.2l-6.7-6.7v-7.2zM253.2 1705.2h7.2l6.7 6.7v7.2l-6.7 6.7h-7.2l-6.7-6.7v-7.2zM355.5 1640.8h7.2l6.7 6.7v7.2l-6.7 6.7h-7.2l-6.7-6.7v-7.2zM368.5 1657.4h7.2l6.7 6.7v7.2l-6.7 6.7h-7.2l-6.7-6.7v-7.2zM343.6 1666.8h7.2l6.7 6.7v7.2l-6.7 6.7h-7.2l-6.7-6.7v-7.2zM417.8 1667.8h7.2l6.7 6.7v7.2l-6.7 6.7h-7.2l-6.7-6.7v-7.2zM438.5 1670.4h7.2l6.7 6.7v7.2l-6.7 6.7h-7.2l-6.7-6.7v-7.2zM464.5 1644.4h7.2l6.7 6.7v7.2l-6.7 6.7h-7.2l-6.7-6.7v-7.2zM480.1 1670.4h7.2l6.7 6.7v7.2l-6.7 6.7h-7.2l-6.7-6.7v-7.2zM467.1 1686.0h7.2l6.7 6.7v7.2l-6.7 6.7h-7.2l-6.7-6.7v-7.2zM448.9 1688.6h7.2l6.7 6.7v7.2l-6.7 6.7h-7.2l-6.7-6.7v-7.2zM428.2 1688.6h7.2l6.7 6.7v7.2l-6.7 6.7h-7.2l-6.7-6.7v-7.2zM407.4 1688.6h7.2l6.7 6.7v7.2l-6.7 6.7h-7.2l-6.7-6.7v-7.2zM391.8 1693.7h7.2l6.7 6.7v7.2l-6.7 6.7h-7.2l-6.7-6.7v-7.2zM373.7 1693.7h7.2l6.7 6.7v7.2l-6.7 6.7h-7.2l-6.7-6.7v-7.2zM438.5 1704.1h7.2l6.7 6.7v7.2l-6.7 6.7h-7.2l-6.7-6.7v-7.2zM454.1 1709.3h7.2l6.7 6.7v7.2l-6.7 6.7h-7.2l-6.7-6.7v-7.2zM417.8 1709.3h7.2l6.7 6.7v7.2l-6.7 6.7h-7.2l-6.7-6.7v-7.2zM397.0 1711.9h7.2l6.7 6.7v7.2l-6.7 6.7h-7.2l-6.7-6.7v-7.2zM378.9 1722.3h7.2l6.7 6.7v7.2l-6.7 6.7h-7.2l-6.7-6.7v-7.2zM371.1 1730.1h7.2l6.7 6.7v7.2l-6.7 6.7h-7.2l-6.7-6.7v-7.2zM407.4 1730.1h7.2l6.7 6.7v7.2l-6.7 6.7h-7.2l-6.7-6.7v-7.2zM391.8 1740.5h7.2l6.7 6.7v7.2l-6.7 6.7h-7.2l-6.7-6.7v-7.2zM404.8 1743.1h7.2l6.7 6.7v7.2l-6.7 6.7h-7.2l-6.7-6.7v-7.2zM376.3 1745.7h7.2l6.7 6.7v7.2l-6.7 6.7h-7.2l-6.7-6.7v-7.2zM425.6 1724.9h7.2l6.7 6.7v7.2l-6.7 6.7h-7.2l-6.7-6.7v-7.2zM337.3 1711.9h7.2l6.7 6.7v7.2l-6.7 6.7h-7.2l-6.7-6.7v-7.2zM345.1 1730.1h7.2l6.7 6.7v7.2l-6.7 6.7h-7.2l-6.7-6.7v-7.2zM316.6 1747.2h7.2l6.7 6.7v7.2l-6.7 6.7h-7.2l-6.7-6.7v-7.2zM355.5 1748.2h7.2l6.7 6.7v7.2l-6.7 6.7h-7.2l-6.7-6.7v-7.2zM337.3 1761.2h7.2l6.7 6.7v7.2l-6.7 6.7h-7.2l-6.7-6.7v-7.2zM358.1 1761.2h7.2l6.7 6.7v7.2l-6.7 6.7h-7.2l-6.7-6.7v-7.2zM308.8 1772.6h7.2l6.7 6.7v7.2l-6.7 6.7h-7.2l-6.7-6.7v-7.2zM323.3 1787.2h7.2l6.7 6.7v7.2l-6.7 6.7h-7.2l-6.7-6.7v-7.2zM367.4 1787.2h7.2l6.7 6.7v7.2l-6.7 6.7h-7.2l-6.7-6.7v-7.2zM294.2 1796.5h7.2l6.7 6.7v7.2l-6.7 6.7h-7.2l-6.7-6.7v-7.2zM262.1 1784.6h7.2l6.7 6.7v7.2l-6.7 6.7h-7.2l-6.7-6.7v-7.2zM267.3 1802.7h7.2l6.7 6.7v7.2l-6.7 6.7h-7.2l-6.7-6.7v-7.2zM285.4 1815.7h7.2l6.7 6.7v7.2l-6.7 6.7h-7.2l-6.7-6.7v-7.2zM246.5 1807.9h7.2l6.7 6.7v7.2l-6.7 6.7h-7.2l-6.7-6.7v-7.2zM236.1 1828.7h7.2l6.7 6.7v7.2l-6.7 6.7h-7.2l-6.7-6.7v-7.2zM256.9 1823.5h7.2l6.7 6.7v7.2l-6.7 6.7h-7.2l-6.7-6.7v-7.2zM267.3 1839.1h7.2l6.7 6.7v7.2l-6.7 6.7h-7.2l-6.7-6.7v-7.2zM230.9 1844.3h7.2l6.7 6.7v7.2l-6.7 6.7h-7.2l-6.7-6.7v-7.2zM241.3 1853.6h7.2l6.7 6.7v7.2l-6.7 6.7h-7.2l-6.7-6.7v-7.2zM230.9 1855.7h7.2l6.7 6.7v7.2l-6.7 6.7h-7.2l-6.7-6.7v-7.2zM238.7 1841.7h7.2l6.7 6.7v7.2l-6.7 6.7h-7.2l-6.7-6.7v-7.2zM225.7 1854.7h7.2l6.7 6.7v7.2l-6.7 6.7h-7.2l-6.7-6.7v-7.2zM246.5 1792.4h7.2l6.7 6.7v7.2l-6.7 6.7h-7.2l-6.7-6.7v-7.2zM238.7 1813.1h7.2l6.7 6.7v7.2l-6.7 6.7h-7.2l-6.7-6.7v-7.2zM464.5 1660.0h7.2l6.7 6.7v7.2l-6.7 6.7h-7.2l-6.7-6.7v-7.2zM448.9 1667.8h7.2l6.7 6.7v7.2l-6.7 6.7h-7.2l-6.7-6.7v-7.2zM408.1 1718.0h7.2l6.7 6.7v7.2l-6.7 6.7h-7.2l-6.7-6.7v-7.2zM396.4 1683.0h7.2l6.7 6.7v7.2l-6.7 6.7h-7.2l-6.7-6.7v-7.2zM548.1 1626.4h7.2l6.7 6.7v7.2l-6.7 6.7h-7.2l-6.7-6.7v-7.2zM559.7 1628.0h7.2l6.7 6.7v7.2l-6.7 6.7h-7.2l-6.7-6.7v-7.2zM543.1 1599.7h7.2l6.7 6.7v7.2l-6.7 6.7h-7.2l-6.7-6.7v-7.2zM501.4 1616.4h7.2l6.7 6.7v7.2l-6.7 6.7h-7.2l-6.7-6.7v-7.2zM509.7 1646.4h7.2l6.7 6.7v7.2l-6.7 6.7h-7.2l-6.7-6.7v-7.2zM426.4 1726.4h7.2l6.7 6.7v7.2l-6.7 6.7h-7.2l-6.7-6.7v-7.2zM386.6 1678.2h7.2l6.7 6.7v7.2l-6.7 6.7h-7.2l-6.7-6.7v-7.2zM402.2 1673.0h7.2l6.7 6.7v7.2l-6.7 6.7h-7.2l-6.7-6.7v-7.2zM423.0 1678.2h7.2l6.7 6.7v7.2l-6.7 6.7h-7.2l-6.7-6.7v-7.2zM443.7 1678.2h7.2l6.7 6.7v7.2l-6.7 6.7h-7.2l-6.7-6.7v-7.2zM381.4 1709.3h7.2l6.7 6.7v7.2l-6.7 6.7h-7.2l-6.7-6.7v-7.2zM412.6 1696.3h7.2l6.7 6.7v7.2l-6.7 6.7h-7.2l-6.7-6.7v-7.2zM428.2 1704.1h7.2l6.7 6.7v7.2l-6.7 6.7h-7.2l-6.7-6.7v-7.2zM391.8 1724.9h7.2l6.7 6.7v7.2l-6.7 6.7h-7.2l-6.7-6.7v-7.2zM417.8 1735.3h7.2l6.7 6.7v7.2l-6.7 6.7h-7.2l-6.7-6.7v-7.2zM397.0 1701.5h7.2l6.7 6.7v7.2l-6.7 6.7h-7.2l-6.7-6.7v-7.2zM443.7 1693.7h7.2l6.7 6.7v7.2l-6.7 6.7h-7.2l-6.7-6.7v-7.2zM461.9 1673.0h7.2l6.7 6.7v7.2l-6.7 6.7h-7.2l-6.7-6.7v-7.2zM474.9 1683.4h7.2l6.7 6.7v7.2l-6.7 6.7h-7.2l-6.7-6.7v-7.2zM529.4 1641.8h7.2l6.7 6.7v7.2l-6.7 6.7h-7.2l-6.7-6.7v-7.2zM547.5 1644.4h7.2l6.7 6.7v7.2l-6.7 6.7h-7.2l-6.7-6.7v-7.2zM563.1 1641.8h7.2l6.7 6.7v7.2l-6.7 6.7h-7.2l-6.7-6.7v-7.2zM578.7 1639.2h7.2l6.7 6.7v7.2l-6.7 6.7h-7.2l-6.7-6.7v-7.2zM594.3 1610.7h7.2l6.7 6.7v7.2l-6.7 6.7h-7.2l-6.7-6.7v-7.2zM594.3 1589.9h7.2l6.7 6.7v7.2l-6.7 6.7h-7.2l-6.7-6.7v-7.2zM578.7 1569.2h7.2l6.7 6.7v7.2l-6.7 6.7h-7.2l-6.7-6.7v-7.2zM594.3 1566.6h7.2l6.7 6.7v7.2l-6.7 6.7h-7.2l-6.7-6.7v-7.2zM521.6 1584.7h7.2l6.7 6.7v7.2l-6.7 6.7h-7.2l-6.7-6.7v-7.2zM524.2 1626.3h7.2l6.7 6.7v7.2l-6.7 6.7h-7.2l-6.7-6.7v-7.2zM560.5 1577.0h7.2l6.7 6.7v7.2l-6.7 6.7h-7.2l-6.7-6.7v-7.2zM547.5 1608.1h7.2l6.7 6.7v7.2l-6.7 6.7h-7.2l-6.7-6.7v-7.2zM565.7 1608.1h7.2l6.7 6.7v7.2l-6.7 6.7h-7.2l-6.7-6.7v-7.2zM581.3 1605.5h7.2l6.7 6.7v7.2l-6.7 6.7h-7.2l-6.7-6.7v-7.2zM532.0 1608.1h7.2l6.7 6.7v7.2l-6.7 6.7h-7.2l-6.7-6.7v-7.2zM646.2 1538.0h7.2l6.7 6.7v7.2l-6.7 6.7h-7.2l-6.7-6.7v-7.2zM661.7 1532.8h7.2l6.7 6.7v7.2l-6.7 6.7h-7.2l-6.7-6.7v-7.2zM666.9 1548.4h7.2l6.7 6.7v7.2l-6.7 6.7h-7.2l-6.7-6.7v-7.2zM638.4 1551.0h7.2l6.7 6.7v7.2l-6.7 6.7h-7.2l-6.7-6.7v-7.2zM682.5 1527.7h7.2l6.7 6.7v7.2l-6.7 6.7h-7.2l-6.7-6.7v-7.2zM747.4 1460.2h7.2l6.7 6.7v7.2l-6.7 6.7h-7.2l-6.7-6.7v-7.2zM750.0 1473.2h7.2l6.7 6.7v7.2l-6.7 6.7h-7.2l-6.7-6.7v-7.2zM744.8 1449.8h7.2l6.7 6.7v7.2l-6.7 6.7h-7.2l-6.7-6.7v-7.2zM869.4 1447.2h7.2l6.7 6.7v7.2l-6.7 6.7h-7.2l-6.7-6.7v-7.2zM853.8 1449.8h7.2l6.7 6.7v7.2l-6.7 6.7h-7.2l-6.7-6.7v-7.2zM874.5 1434.2h7.2l6.7 6.7v7.2l-6.7 6.7h-7.2l-6.7-6.7v-7.2zM807.1 1496.5h7.2l6.7 6.7v7.2l-6.7 6.7h-7.2l-6.7-6.7v-7.2zM796.7 1506.9h7.2l6.7 6.7v7.2l-6.7 6.7h-7.2l-6.7-6.7v-7.2zM786.3 1522.5h7.2l6.7 6.7v7.2l-6.7 6.7h-7.2l-6.7-6.7v-7.2zM812.3 1506.9h7.2l6.7 6.7v7.2l-6.7 6.7h-7.2l-6.7-6.7v-7.2zM230.9 1833.9h7.2l6.7 6.7v7.2l-6.7 6.7h-7.2l-6.7-6.7v-7.2zM246.5 1828.7h7.2l6.7 6.7v7.2l-6.7 6.7h-7.2l-6.7-6.7v-7.2zM251.7 1802.7h7.2l6.7 6.7v7.2l-6.7 6.7h-7.2l-6.7-6.7v-7.2zM262.1 1813.1h7.2l6.7 6.7v7.2l-6.7 6.7h-7.2l-6.7-6.7v-7.2zM272.4 1807.9h7.2l6.7 6.7v7.2l-6.7 6.7h-7.2l-6.7-6.7v-7.2zM277.6 1823.5h7.2l6.7 6.7v7.2l-6.7 6.7h-7.2l-6.7-6.7v-7.2zM236.1 1861.9h7.2l6.7 6.7v7.2l-6.7 6.7h-7.2l-6.7-6.7v-7.2zM246.5 1859.8h7.2l6.7 6.7v7.2l-6.7 6.7h-7.2l-6.7-6.7v-7.2zM223.1 1853.6h7.2l6.7 6.7v7.2l-6.7 6.7h-7.2l-6.7-6.7v-7.2z" fill="#0071c2"/>
<line x1="84.8" y1="1910.8" x2="1172.9" y2="1076.1" stroke="#d95319" stroke-width="2.2"/>
<line x1="84.8" y1="1910.8" x2="84.8" y2="1899.8" stroke="#1e1e1e" stroke-width="2"/>
<line x1="84.8" y1="1076.1" x2="84.8" y2="1087.1" stroke="#1e1e1e" stroke-width="2"/>
<line x1="84.8" y1="1910.8" x2="95.8" y2="1910.8" stroke="#1e1e1e" stroke-width="2"/>
<line x1="1172.9" y1="1910.8" x2="1161.9" y2="1910.8" stroke="#1e1e1e" stroke-width="2"/>
<line x1="266.2" y1="1910.8" x2="266.2" y2="1899.8" stroke="#1e1e1e" stroke-width="2"/>
<line x1="266.2" y1="1076.1" x2="266.2" y2="1087.1" stroke="#1e1e1e" stroke-width="2"/>
<line x1="84.8" y1="1771.7" x2="95.8" y2="1771.7" stroke="#1e1e1e" stroke-width="2"/>
<line x1="1172.9" y1="1771.7" x2="1161.9" y2="1771.7" stroke="#1e1e1e" stroke-width="2"/>
<line x1="447.5" y1="1910.8" x2="447.5" y2="1899.8" stroke="#1e1e1e" stroke-width="2"/>
<line x1="447.5" y1="1076.1" x2="447.5" y2="1087.1" stroke="#1e1e1e" stroke-width="2"/>
<line x1="84.8" y1="1632.6" x2="95.8" y2="1632.6" stroke="#1e1e1e" stroke-width="2"/>
<line x1="1172.9" y1="1632.6" x2="1161.9" y2="1632.6" stroke="#1e1e1e" stroke-width="2"/>
<line x1="628.9" y1="1910.8" x2="628.9" y2="1899.8" stroke="#1e1e1e" stroke-width="2"/>
<line x1="628.9" y1="1076.1" x2="628.9" y2="1087.1" stroke="#1e1e1e" stroke-width="2"/>
<line x1="84.8" y1="1493.4" x2="95.8" y2="1493.4" stroke="#1e1e1e" stroke-width="2"/>
<line x1="1172.9" y1="1493.4" x2="1161.9" y2="1493.4" stroke="#1e1e1e" stroke-width="2"/>
<line x1="810.2" y1="1910.8" x2="810.2" y2="1899.8" stroke="#1e1e1e" stroke-width="2"/>
<line x1="810.2" y1="1076.1" x2="810.2" y2="1087.1" stroke="#1e1e1e" stroke-width="2"/>
<line x1="84.8" y1="1354.3" x2="95.8" y2="1354.3" stroke="#1e1e1e" stroke-width="2"/>
<line x1="1172.9" y1="1354.3" x2="1161.9" y2="1354.3" stroke="#1e1e1e" stroke-width="2"/>
<line x1="991.6" y1="1910.8" x2="991.6" y2="1899.8" stroke="#1e1e1e" stroke-width="2"/>
<line x1="991.6" y1="1076.1" x2="991.6" y2="1087.1" stroke="#1e1e1e" stroke-width="2"/>
<line x1="84.8" y1="1215.2" x2="95.8" y2="1215.2" stroke="#1e1e1e" stroke-width="2"/>
<line x1="1172.9" y1="1215.2" x2="1161.9" y2="1215.2" stroke="#1e1e1e" stroke-width="2"/>
<line x1="1172.9" y1="1910.8" x2="1172.9" y2="1899.8" stroke="#1e1e1e" stroke-width="2"/>
<line x1="1172.9" y1="1076.1" x2="1172.9" y2="1087.1" stroke="#1e1e1e" stroke-width="2"/>
<line x1="84.8" y1="1076.1" x2="95.8" y2="1076.1" stroke="#1e1e1e" stroke-width="2"/>
<line x1="1172.9" y1="1076.1" x2="1161.9" y2="1076.1" stroke="#1e1e1e" stroke-width="2"/>
<rect x="84.8" y="1076.1" width="1088.1" height="834.7" fill="none" stroke="#1e1e1e" stroke-width="2"/>
<text x="83.6" y="1957.5" font-size="33.0" fill="#111" text-anchor="middle" font-weight="normal" >0</text>
<text x="68.8" y="1922.7" font-size="33.0" fill="#111" text-anchor="end" font-weight="normal" >0</text>
<text x="265.0" y="1957.5" font-size="33.0" fill="#111" text-anchor="middle" font-weight="normal" >1</text>
<text x="68.8" y="1783.6" font-size="33.0" fill="#111" text-anchor="end" font-weight="normal" >1</text>
<text x="446.3" y="1957.5" font-size="33.0" fill="#111" text-anchor="middle" font-weight="normal" >2</text>
<text x="68.8" y="1644.5" font-size="33.0" fill="#111" text-anchor="end" font-weight="normal" >2</text>
<text x="627.6" y="1957.5" font-size="33.0" fill="#111" text-anchor="middle" font-weight="normal" >3</text>
<text x="68.8" y="1505.3" font-size="33.0" fill="#111" text-anchor="end" font-weight="normal" >3</text>
<text x="809.0" y="1957.5" font-size="33.0" fill="#111" text-anchor="middle" font-weight="normal" >4</text>
<text x="68.8" y="1366.2" font-size="33.0" fill="#111" text-anchor="end" font-weight="normal" >4</text>
<text x="990.4" y="1957.5" font-size="33.0" fill="#111" text-anchor="middle" font-weight="normal" >5</text>
<text x="68.8" y="1227.1" font-size="33.0" fill="#111" text-anchor="end" font-weight="normal" >5</text>
<text x="1171.7" y="1957.5" font-size="33.0" fill="#111" text-anchor="middle" font-weight="normal" >6</text>
<text x="68.8" y="1088.0" font-size="33.0" fill="#111" text-anchor="end" font-weight="normal" >6</text>
<text x="628.9" y="2004.6" font-size="34.0" fill="#111" text-anchor="middle" font-weight="normal" textLength="370.0" lengthAdjust="spacingAndGlyphs" >SWH from ECMWF /m</text>
<text transform="translate(30.8 1493.4) rotate(-90)" x="0" y="0" font-size="36" fill="#111" text-anchor="middle" textLength="282" lengthAdjust="spacingAndGlyphs">SWH by MLE6 /m</text>
<text x="96.0" y="1130.6" font-size="52.0" fill="#000" text-anchor="start" font-weight="bold" textLength="55.0" lengthAdjust="spacingAndGlyphs" >(c)</text>
<text x="382.0" y="1044.7" font-size="34.0" fill="#000" textLength="494.0" lengthAdjust="spacingAndGlyphs">CFO<tspan font-size="20.4" font-weight="bold" dy="12.9">-</tspan><tspan dy="-12.9">OP05</tspan><tspan font-size="20.4" font-weight="bold" dy="12.9">-</tspan><tspan dy="-12.9">SWI</tspan><tspan font-size="20.4" font-weight="bold" dy="12.9">-</tspan><tspan dy="-12.9">L1A</tspan><tspan font-size="20.4" font-weight="bold" dy="12.9">-</tspan><tspan dy="-12.9">---812.nc</tspan></text>
</g>
<g>
<line x1="1463.6" y1="1075.7" x2="1463.6" y2="1910.8" stroke="#cccccc" stroke-width="1.1" stroke-dasharray="1.6 2.6"/>
<line x1="1283.0" y1="1771.6" x2="2366.7" y2="1771.6" stroke="#cccccc" stroke-width="1.1" stroke-dasharray="1.6 2.6"/>
<line x1="1644.2" y1="1075.7" x2="1644.2" y2="1910.8" stroke="#cccccc" stroke-width="1.1" stroke-dasharray="1.6 2.6"/>
<line x1="1283.0" y1="1632.4" x2="2366.7" y2="1632.4" stroke="#cccccc" stroke-width="1.1" stroke-dasharray="1.6 2.6"/>
<line x1="1824.8" y1="1075.7" x2="1824.8" y2="1910.8" stroke="#cccccc" stroke-width="1.1" stroke-dasharray="1.6 2.6"/>
<line x1="1283.0" y1="1493.2" x2="2366.7" y2="1493.2" stroke="#cccccc" stroke-width="1.1" stroke-dasharray="1.6 2.6"/>
<line x1="2005.5" y1="1075.7" x2="2005.5" y2="1910.8" stroke="#cccccc" stroke-width="1.1" stroke-dasharray="1.6 2.6"/>
<line x1="1283.0" y1="1354.1" x2="2366.7" y2="1354.1" stroke="#cccccc" stroke-width="1.1" stroke-dasharray="1.6 2.6"/>
<line x1="2186.1" y1="1075.7" x2="2186.1" y2="1910.8" stroke="#cccccc" stroke-width="1.1" stroke-dasharray="1.6 2.6"/>
<line x1="1283.0" y1="1214.9" x2="2366.7" y2="1214.9" stroke="#cccccc" stroke-width="1.1" stroke-dasharray="1.6 2.6"/>
<path d="M2097.5 1252.6h7.2l6.7 6.7v7.2l-6.7 6.7h-7.2l-6.7-6.7v-7.2zM2087.1 1260.9h7.2l6.7 6.7v7.2l-6.7 6.7h-7.2l-6.7-6.7v-7.2zM2066.3 1282.7h7.2l6.7 6.7v7.2l-6.7 6.7h-7.2l-6.7-6.7v-7.2zM2090.7 1299.8h7.2l6.7 6.7v7.2l-6.7 6.7h-7.2l-6.7-6.7v-7.2zM2064.8 1308.7h7.2l6.7 6.7v7.2l-6.7 6.7h-7.2l-6.7-6.7v-7.2zM2209.1 1337.2h7.2l6.7 6.7v7.2l-6.7 6.7h-7.2l-6.7-6.7v-7.2zM2185.7 1351.2h7.2l6.7 6.7v7.2l-6.7 6.7h-7.2l-6.7-6.7v-7.2zM2164.9 1358.0h7.2l6.7 6.7v7.2l-6.7 6.7h-7.2l-6.7-6.7v-7.2zM2197.1 1360.6h7.2l6.7 6.7v7.2l-6.7 6.7h-7.2l-6.7-6.7v-7.2zM2203.9 1373.5h7.2l6.7 6.7v7.2l-6.7 6.7h-7.2l-6.7-6.7v-7.2zM2210.1 1385.0h7.2l6.7 6.7v7.2l-6.7 6.7h-7.2l-6.7-6.7v-7.2zM2055.4 1349.1h7.2l6.7 6.7v7.2l-6.7 6.7h-7.2l-6.7-6.7v-7.2zM2021.7 1359.0h7.2l6.7 6.7v7.2l-6.7 6.7h-7.2l-6.7-6.7v-7.2zM2126.0 1399.5h7.2l6.7 6.7v7.2l-6.7 6.7h-7.2l-6.7-6.7v-7.2zM2162.3 1393.3h7.2l6.7 6.7v7.2l-6.7 6.7h-7.2l-6.7-6.7v-7.2zM1963.5 1387.5h7.2l6.7 6.7v7.2l-6.7 6.7h-7.2l-6.7-6.7v-7.2zM1971.3 1399.5h7.2l6.7 6.7v7.2l-6.7 6.7h-7.2l-6.7-6.7v-7.2zM1942.8 1396.9h7.2l6.7 6.7v7.2l-6.7 6.7h-7.2l-6.7-6.7v-7.2zM1914.2 1407.3h7.2l6.7 6.7v7.2l-6.7 6.7h-7.2l-6.7-6.7v-7.2zM1953.2 1409.9h7.2l6.7 6.7v7.2l-6.7 6.7h-7.2l-6.7-6.7v-7.2zM1958.4 1417.7h7.2l6.7 6.7v7.2l-6.7 6.7h-7.2l-6.7-6.7v-7.2zM1936.6 1420.2h7.2l6.7 6.7v7.2l-6.7 6.7h-7.2l-6.7-6.7v-7.2zM2050.2 1402.1h7.2l6.7 6.7v7.2l-6.7 6.7h-7.2l-6.7-6.7v-7.2zM2064.8 1407.3h7.2l6.7 6.7v7.2l-6.7 6.7h-7.2l-6.7-6.7v-7.2zM2084.0 1404.7h7.2l6.7 6.7v7.2l-6.7 6.7h-7.2l-6.7-6.7v-7.2zM2101.1 1420.2h7.2l6.7 6.7v7.2l-6.7 6.7h-7.2l-6.7-6.7v-7.2zM2081.9 1428.0h7.2l6.7 6.7v7.2l-6.7 6.7h-7.2l-6.7-6.7v-7.2zM2062.2 1422.8h7.2l6.7 6.7v7.2l-6.7 6.7h-7.2l-6.7-6.7v-7.2zM2051.8 1433.2h7.2l6.7 6.7v7.2l-6.7 6.7h-7.2l-6.7-6.7v-7.2zM1854.5 1444.6h7.2l6.7 6.7v7.2l-6.7 6.7h-7.2l-6.7-6.7v-7.2zM1903.9 1455.0h7.2l6.7 6.7v7.2l-6.7 6.7h-7.2l-6.7-6.7v-7.2zM1940.2 1448.8h7.2l6.7 6.7v7.2l-6.7 6.7h-7.2l-6.7-6.7v-7.2zM1948.0 1461.8h7.2l6.7 6.7v7.2l-6.7 6.7h-7.2l-6.7-6.7v-7.2zM1953.2 1472.2h7.2l6.7 6.7v7.2l-6.7 6.7h-7.2l-6.7-6.7v-7.2zM1978.1 1449.8h7.2l6.7 6.7v7.2l-6.7 6.7h-7.2l-6.7-6.7v-7.2zM2013.9 1454.0h7.2l6.7 6.7v7.2l-6.7 6.7h-7.2l-6.7-6.7v-7.2zM2062.2 1454.0h7.2l6.7 6.7v7.2l-6.7 6.7h-7.2l-6.7-6.7v-7.2zM2077.7 1451.4h7.2l6.7 6.7v7.2l-6.7 6.7h-7.2l-6.7-6.7v-7.2zM2079.3 1463.3h7.2l6.7 6.7v7.2l-6.7 6.7h-7.2l-6.7-6.7v-7.2zM2039.8 1474.7h7.2l6.7 6.7v7.2l-6.7 6.7h-7.2l-6.7-6.7v-7.2zM2051.8 1469.6h7.2l6.7 6.7v7.2l-6.7 6.7h-7.2l-6.7-6.7v-7.2zM1920.5 1491.9h7.2l6.7 6.7v7.2l-6.7 6.7h-7.2l-6.7-6.7v-7.2zM1948.0 1490.3h7.2l6.7 6.7v7.2l-6.7 6.7h-7.2l-6.7-6.7v-7.2zM1997.3 1489.3h7.2l6.7 6.7v7.2l-6.7 6.7h-7.2l-6.7-6.7v-7.2zM2014.4 1494.5h7.2l6.7 6.7v7.2l-6.7 6.7h-7.2l-6.7-6.7v-7.2zM1804.2 1490.3h7.2l6.7 6.7v7.2l-6.7 6.7h-7.2l-6.7-6.7v-7.2zM1948.0 1505.9h7.2l6.7 6.7v7.2l-6.7 6.7h-7.2l-6.7-6.7v-7.2zM1976.5 1510.0h7.2l6.7 6.7v7.2l-6.7 6.7h-7.2l-6.7-6.7v-7.2zM1958.4 1516.3h7.2l6.7 6.7v7.2l-6.7 6.7h-7.2l-6.7-6.7v-7.2zM2012.9 1516.3h7.2l6.7 6.7v7.2l-6.7 6.7h-7.2l-6.7-6.7v-7.2zM2002.5 1524.1h7.2l6.7 6.7v7.2l-6.7 6.7h-7.2l-6.7-6.7v-7.2zM1883.1 1510.0h7.2l6.7 6.7v7.2l-6.7 6.7h-7.2l-6.7-6.7v-7.2zM1906.4 1521.5h7.2l6.7 6.7v7.2l-6.7 6.7h-7.2l-6.7-6.7v-7.2zM1924.6 1518.9h7.2l6.7 6.7v7.2l-6.7 6.7h-7.2l-6.7-6.7v-7.2zM1940.2 1528.2h7.2l6.7 6.7v7.2l-6.7 6.7h-7.2l-6.7-6.7v-7.2zM1948.0 1534.4h7.2l6.7 6.7v7.2l-6.7 6.7h-7.2l-6.7-6.7v-7.2zM1986.9 1534.4h7.2l6.7 6.7v7.2l-6.7 6.7h-7.2l-6.7-6.7v-7.2zM1986.9 1544.8h7.2l6.7 6.7v7.2l-6.7 6.7h-7.2l-6.7-6.7v-7.2zM1870.1 1529.2h7.2l6.7 6.7v7.2l-6.7 6.7h-7.2l-6.7-6.7v-7.2zM1849.4 1538.1h7.2l6.7 6.7v7.2l-6.7 6.7h-7.2l-6.7-6.7v-7.2zM1836.4 1547.4h7.2l6.7 6.7v7.2l-6.7 6.7h-7.2l-6.7-6.7v-7.2zM1875.3 1550.0h7.2l6.7 6.7v7.2l-6.7 6.7h-7.2l-6.7-6.7v-7.2zM1896.1 1539.6h7.2l6.7 6.7v7.2l-6.7 6.7h-7.2l-6.7-6.7v-7.2zM1914.2 1553.6h7.2l6.7 6.7v7.2l-6.7 6.7h-7.2l-6.7-6.7v-7.2zM1807.8 1550.0h7.2l6.7 6.7v7.2l-6.7 6.7h-7.2l-6.7-6.7v-7.2zM1828.6 1555.2h7.2l6.7 6.7v7.2l-6.7 6.7h-7.2l-6.7-6.7v-7.2zM1849.4 1563.0h7.2l6.7 6.7v7.2l-6.7 6.7h-7.2l-6.7-6.7v-7.2zM1810.4 1568.2h7.2l6.7 6.7v7.2l-6.7 6.7h-7.2l-6.7-6.7v-7.2zM1953.2 1561.9h7.2l6.7 6.7v7.2l-6.7 6.7h-7.2l-6.7-6.7v-7.2zM1750.7 1540.7h7.2l6.7 6.7v7.2l-6.7 6.7h-7.2l-6.7-6.7v-7.2zM1755.9 1558.8h7.2l6.7 6.7v7.2l-6.7 6.7h-7.2l-6.7-6.7v-7.2zM1910.6 1577.0h7.2l6.7 6.7v7.2l-6.7 6.7h-7.2l-6.7-6.7v-7.2zM1888.3 1586.3h7.2l6.7 6.7v7.2l-6.7 6.7h-7.2l-6.7-6.7v-7.2zM1833.8 1580.1h7.2l6.7 6.7v7.2l-6.7 6.7h-7.2l-6.7-6.7v-7.2zM1864.9 1590.0h7.2l6.7 6.7v7.2l-6.7 6.7h-7.2l-6.7-6.7v-7.2zM1859.7 1594.1h7.2l6.7 6.7v7.2l-6.7 6.7h-7.2l-6.7-6.7v-7.2zM1890.9 1581.2h7.2l6.7 6.7v7.2l-6.7 6.7h-7.2l-6.7-6.7v-7.2zM1787.1 1578.6h7.2l6.7 6.7v7.2l-6.7 6.7h-7.2l-6.7-6.7v-7.2zM1779.3 1588.9h7.2l6.7 6.7v7.2l-6.7 6.7h-7.2l-6.7-6.7v-7.2zM1828.6 1608.1h7.2l6.7 6.7v7.2l-6.7 6.7h-7.2l-6.7-6.7v-7.2zM1805.2 1613.9h7.2l6.7 6.7v7.2l-6.7 6.7h-7.2l-6.7-6.7v-7.2zM1605.4 1554.2h7.2l6.7 6.7v7.2l-6.7 6.7h-7.2l-6.7-6.7v-7.2zM1658.3 1560.4h7.2l6.7 6.7v7.2l-6.7 6.7h-7.2l-6.7-6.7v-7.2zM1658.3 1587.9h7.2l6.7 6.7v7.2l-6.7 6.7h-7.2l-6.7-6.7v-7.2zM1680.7 1587.9h7.2l6.7 6.7v7.2l-6.7 6.7h-7.2l-6.7-6.7v-7.2zM1623.6 1614.9h7.2l6.7 6.7v7.2l-6.7 6.7h-7.2l-6.7-6.7v-7.2zM1574.3 1629.4h7.2l6.7 6.7v7.2l-6.7 6.7h-7.2l-6.7-6.7v-7.2zM1654.7 1614.9h7.2l6.7 6.7v7.2l-6.7 6.7h-7.2l-6.7-6.7v-7.2zM1693.6 1605.5h7.2l6.7 6.7v7.2l-6.7 6.7h-7.2l-6.7-6.7v-7.2zM1673.9 1615.9h7.2l6.7 6.7v7.2l-6.7 6.7h-7.2l-6.7-6.7v-7.2zM1644.3 1639.8h7.2l6.7 6.7v7.2l-6.7 6.7h-7.2l-6.7-6.7v-7.2zM1745.5 1583.7h7.2l6.7 6.7v7.2l-6.7 6.7h-7.2l-6.7-6.7v-7.2zM1730.0 1596.7h7.2l6.7 6.7v7.2l-6.7 6.7h-7.2l-6.7-6.7v-7.2zM1755.9 1594.1h7.2l6.7 6.7v7.2l-6.7 6.7h-7.2l-6.7-6.7v-7.2zM1771.5 1601.9h7.2l6.7 6.7v7.2l-6.7 6.7h-7.2l-6.7-6.7v-7.2zM1719.6 1612.3h7.2l6.7 6.7v7.2l-6.7 6.7h-7.2l-6.7-6.7v-7.2zM1735.2 1612.3h7.2l6.7 6.7v7.2l-6.7 6.7h-7.2l-6.7-6.7v-7.2zM1750.7 1609.7h7.2l6.7 6.7v7.2l-6.7 6.7h-7.2l-6.7-6.7v-7.2zM1766.3 1612.3h7.2l6.7 6.7v7.2l-6.7 6.7h-7.2l-6.7-6.7v-7.2zM1784.5 1612.3h7.2l6.7 6.7v7.2l-6.7 6.7h-7.2l-6.7-6.7v-7.2zM1724.8 1627.9h7.2l6.7 6.7v7.2l-6.7 6.7h-7.2l-6.7-6.7v-7.2zM1740.4 1627.9h7.2l6.7 6.7v7.2l-6.7 6.7h-7.2l-6.7-6.7v-7.2zM1755.9 1627.9h7.2l6.7 6.7v7.2l-6.7 6.7h-7.2l-6.7-6.7v-7.2zM1771.5 1627.9h7.2l6.7 6.7v7.2l-6.7 6.7h-7.2l-6.7-6.7v-7.2zM1787.1 1625.3h7.2l6.7 6.7v7.2l-6.7 6.7h-7.2l-6.7-6.7v-7.2zM1735.2 1643.4h7.2l6.7 6.7v7.2l-6.7 6.7h-7.2l-6.7-6.7v-7.2zM1750.7 1646.0h7.2l6.7 6.7v7.2l-6.7 6.7h-7.2l-6.7-6.7v-7.2zM1768.9 1646.0h7.2l6.7 6.7v7.2l-6.7 6.7h-7.2l-6.7-6.7v-7.2zM1781.9 1638.2h7.2l6.7 6.7v7.2l-6.7 6.7h-7.2l-6.7-6.7v-7.2zM1709.2 1633.1h7.2l6.7 6.7v7.2l-6.7 6.7h-7.2l-6.7-6.7v-7.2zM1693.6 1635.7h7.2l6.7 6.7v7.2l-6.7 6.7h-7.2l-6.7-6.7v-7.2zM1683.3 1646.0h7.2l6.7 6.7v7.2l-6.7 6.7h-7.2l-6.7-6.7v-7.2zM1699.9 1674.6h7.2l6.7 6.7v7.2l-6.7 6.7h-7.2l-6.7-6.7v-7.2zM1688.4 1620.1h7.2l6.7 6.7v7.2l-6.7 6.7h-7.2l-6.7-6.7v-7.2zM1706.6 1620.1h7.2l6.7 6.7v7.2l-6.7 6.7h-7.2l-6.7-6.7v-7.2zM1727.4 1653.8h7.2l6.7 6.7v7.2l-6.7 6.7h-7.2l-6.7-6.7v-7.2zM1745.5 1653.8h7.2l6.7 6.7v7.2l-6.7 6.7h-7.2l-6.7-6.7v-7.2zM1761.1 1651.2h7.2l6.7 6.7v7.2l-6.7 6.7h-7.2l-6.7-6.7v-7.2zM1776.7 1648.6h7.2l6.7 6.7v7.2l-6.7 6.7h-7.2l-6.7-6.7v-7.2zM1792.3 1622.7h7.2l6.7 6.7v7.2l-6.7 6.7h-7.2l-6.7-6.7v-7.2zM1792.3 1601.9h7.2l6.7 6.7v7.2l-6.7 6.7h-7.2l-6.7-6.7v-7.2zM1776.7 1581.2h7.2l6.7 6.7v7.2l-6.7 6.7h-7.2l-6.7-6.7v-7.2zM1789.7 1578.6h7.2l6.7 6.7v7.2l-6.7 6.7h-7.2l-6.7-6.7v-7.2zM1826.0 1666.8h7.2l6.7 6.7v7.2l-6.7 6.7h-7.2l-6.7-6.7v-7.2zM1741.9 1682.4h7.2l6.7 6.7v7.2l-6.7 6.7h-7.2l-6.7-6.7v-7.2zM1732.6 1696.9h7.2l6.7 6.7v7.2l-6.7 6.7h-7.2l-6.7-6.7v-7.2zM1753.3 1714.5h7.2l6.7 6.7v7.2l-6.7 6.7h-7.2l-6.7-6.7v-7.2zM1740.4 1728.0h7.2l6.7 6.7v7.2l-6.7 6.7h-7.2l-6.7-6.7v-7.2zM1685.9 1746.2h7.2l6.7 6.7v7.2l-6.7 6.7h-7.2l-6.7-6.7v-7.2zM1638.1 1750.9h7.2l6.7 6.7v7.2l-6.7 6.7h-7.2l-6.7-6.7v-7.2zM1451.2 1691.2h7.2l6.7 6.7v7.2l-6.7 6.7h-7.2l-6.7-6.7v-7.2zM1553.5 1645.0h7.2l6.7 6.7v7.2l-6.7 6.7h-7.2l-6.7-6.7v-7.2zM1566.5 1661.6h7.2l6.7 6.7v7.2l-6.7 6.7h-7.2l-6.7-6.7v-7.2zM1574.3 1630.5h7.2l6.7 6.7v7.2l-6.7 6.7h-7.2l-6.7-6.7v-7.2zM1541.6 1690.2h7.2l6.7 6.7v7.2l-6.7 6.7h-7.2l-6.7-6.7v-7.2zM1615.8 1679.8h7.2l6.7 6.7v7.2l-6.7 6.7h-7.2l-6.7-6.7v-7.2zM1636.5 1682.4h7.2l6.7 6.7v7.2l-6.7 6.7h-7.2l-6.7-6.7v-7.2zM1662.5 1656.4h7.2l6.7 6.7v7.2l-6.7 6.7h-7.2l-6.7-6.7v-7.2zM1678.1 1687.6h7.2l6.7 6.7v7.2l-6.7 6.7h-7.2l-6.7-6.7v-7.2zM1665.1 1700.5h7.2l6.7 6.7v7.2l-6.7 6.7h-7.2l-6.7-6.7v-7.2zM1646.9 1700.5h7.2l6.7 6.7v7.2l-6.7 6.7h-7.2l-6.7-6.7v-7.2zM1626.2 1700.5h7.2l6.7 6.7v7.2l-6.7 6.7h-7.2l-6.7-6.7v-7.2zM1605.4 1700.5h7.2l6.7 6.7v7.2l-6.7 6.7h-7.2l-6.7-6.7v-7.2zM1589.8 1705.7h7.2l6.7 6.7v7.2l-6.7 6.7h-7.2l-6.7-6.7v-7.2zM1571.7 1705.7h7.2l6.7 6.7v7.2l-6.7 6.7h-7.2l-6.7-6.7v-7.2zM1636.5 1716.1h7.2l6.7 6.7v7.2l-6.7 6.7h-7.2l-6.7-6.7v-7.2zM1652.1 1721.3h7.2l6.7 6.7v7.2l-6.7 6.7h-7.2l-6.7-6.7v-7.2zM1615.8 1721.3h7.2l6.7 6.7v7.2l-6.7 6.7h-7.2l-6.7-6.7v-7.2zM1595.0 1723.9h7.2l6.7 6.7v7.2l-6.7 6.7h-7.2l-6.7-6.7v-7.2zM1576.9 1734.3h7.2l6.7 6.7v7.2l-6.7 6.7h-7.2l-6.7-6.7v-7.2zM1569.1 1742.1h7.2l6.7 6.7v7.2l-6.7 6.7h-7.2l-6.7-6.7v-7.2zM1605.4 1742.1h7.2l6.7 6.7v7.2l-6.7 6.7h-7.2l-6.7-6.7v-7.2zM1589.8 1752.4h7.2l6.7 6.7v7.2l-6.7 6.7h-7.2l-6.7-6.7v-7.2zM1602.8 1755.0h7.2l6.7 6.7v7.2l-6.7 6.7h-7.2l-6.7-6.7v-7.2zM1574.3 1757.6h7.2l6.7 6.7v7.2l-6.7 6.7h-7.2l-6.7-6.7v-7.2zM1623.6 1736.9h7.2l6.7 6.7v7.2l-6.7 6.7h-7.2l-6.7-6.7v-7.2zM1584.6 1690.2h7.2l6.7 6.7v7.2l-6.7 6.7h-7.2l-6.7-6.7v-7.2zM1600.2 1685.0h7.2l6.7 6.7v7.2l-6.7 6.7h-7.2l-6.7-6.7v-7.2zM1621.0 1690.2h7.2l6.7 6.7v7.2l-6.7 6.7h-7.2l-6.7-6.7v-7.2zM1641.7 1690.2h7.2l6.7 6.7v7.2l-6.7 6.7h-7.2l-6.7-6.7v-7.2zM1579.4 1721.3h7.2l6.7 6.7v7.2l-6.7 6.7h-7.2l-6.7-6.7v-7.2zM1610.6 1708.3h7.2l6.7 6.7v7.2l-6.7 6.7h-7.2l-6.7-6.7v-7.2zM1626.2 1716.1h7.2l6.7 6.7v7.2l-6.7 6.7h-7.2l-6.7-6.7v-7.2zM1589.8 1736.9h7.2l6.7 6.7v7.2l-6.7 6.7h-7.2l-6.7-6.7v-7.2zM1615.8 1747.2h7.2l6.7 6.7v7.2l-6.7 6.7h-7.2l-6.7-6.7v-7.2zM1595.0 1713.5h7.2l6.7 6.7v7.2l-6.7 6.7h-7.2l-6.7-6.7v-7.2zM1641.7 1705.7h7.2l6.7 6.7v7.2l-6.7 6.7h-7.2l-6.7-6.7v-7.2zM1659.9 1685.0h7.2l6.7 6.7v7.2l-6.7 6.7h-7.2l-6.7-6.7v-7.2zM1672.9 1695.3h7.2l6.7 6.7v7.2l-6.7 6.7h-7.2l-6.7-6.7v-7.2zM1662.5 1672.0h7.2l6.7 6.7v7.2l-6.7 6.7h-7.2l-6.7-6.7v-7.2zM1646.9 1679.8h7.2l6.7 6.7v7.2l-6.7 6.7h-7.2l-6.7-6.7v-7.2zM1535.3 1716.1h7.2l6.7 6.7v7.2l-6.7 6.7h-7.2l-6.7-6.7v-7.2zM1535.3 1726.5h7.2l6.7 6.7v7.2l-6.7 6.7h-7.2l-6.7-6.7v-7.2zM1543.1 1739.5h7.2l6.7 6.7v7.2l-6.7 6.7h-7.2l-6.7-6.7v-7.2zM1514.6 1754.0h7.2l6.7 6.7v7.2l-6.7 6.7h-7.2l-6.7-6.7v-7.2zM1553.5 1762.8h7.2l6.7 6.7v7.2l-6.7 6.7h-7.2l-6.7-6.7v-7.2zM1535.3 1769.6h7.2l6.7 6.7v7.2l-6.7 6.7h-7.2l-6.7-6.7v-7.2zM1556.1 1770.6h7.2l6.7 6.7v7.2l-6.7 6.7h-7.2l-6.7-6.7v-7.2zM1574.3 1768.0h7.2l6.7 6.7v7.2l-6.7 6.7h-7.2l-6.7-6.7v-7.2zM1506.8 1787.7h7.2l6.7 6.7v7.2l-6.7 6.7h-7.2l-6.7-6.7v-7.2zM1521.3 1796.6h7.2l6.7 6.7v7.2l-6.7 6.7h-7.2l-6.7-6.7v-7.2zM1563.9 1796.6h7.2l6.7 6.7v7.2l-6.7 6.7h-7.2l-6.7-6.7v-7.2zM1491.2 1808.0h7.2l6.7 6.7v7.2l-6.7 6.7h-7.2l-6.7-6.7v-7.2zM1460.1 1788.8h7.2l6.7 6.7v7.2l-6.7 6.7h-7.2l-6.7-6.7v-7.2zM1465.3 1801.7h7.2l6.7 6.7v7.2l-6.7 6.7h-7.2l-6.7-6.7v-7.2zM1483.4 1831.9h7.2l6.7 6.7v7.2l-6.7 6.7h-7.2l-6.7-6.7v-7.2zM1444.5 1814.7h7.2l6.7 6.7v7.2l-6.7 6.7h-7.2l-6.7-6.7v-7.2zM1434.1 1832.9h7.2l6.7 6.7v7.2l-6.7 6.7h-7.2l-6.7-6.7v-7.2zM1454.9 1822.5h7.2l6.7 6.7v7.2l-6.7 6.7h-7.2l-6.7-6.7v-7.2zM1465.3 1845.9h7.2l6.7 6.7v7.2l-6.7 6.7h-7.2l-6.7-6.7v-7.2zM1428.9 1856.2h7.2l6.7 6.7v7.2l-6.7 6.7h-7.2l-6.7-6.7v-7.2zM1439.3 1858.8h7.2l6.7 6.7v7.2l-6.7 6.7h-7.2l-6.7-6.7v-7.2zM1428.9 1860.9h7.2l6.7 6.7v7.2l-6.7 6.7h-7.2l-6.7-6.7v-7.2zM1436.7 1845.9h7.2l6.7 6.7v7.2l-6.7 6.7h-7.2l-6.7-6.7v-7.2zM1423.7 1853.7h7.2l6.7 6.7v7.2l-6.7 6.7h-7.2l-6.7-6.7v-7.2zM1444.5 1791.4h7.2l6.7 6.7v7.2l-6.7 6.7h-7.2l-6.7-6.7v-7.2zM1436.7 1817.3h7.2l6.7 6.7v7.2l-6.7 6.7h-7.2l-6.7-6.7v-7.2zM1428.9 1838.1h7.2l6.7 6.7v7.2l-6.7 6.7h-7.2l-6.7-6.7v-7.2zM1444.5 1827.7h7.2l6.7 6.7v7.2l-6.7 6.7h-7.2l-6.7-6.7v-7.2zM1449.7 1806.9h7.2l6.7 6.7v7.2l-6.7 6.7h-7.2l-6.7-6.7v-7.2zM1460.1 1817.3h7.2l6.7 6.7v7.2l-6.7 6.7h-7.2l-6.7-6.7v-7.2zM1470.4 1817.3h7.2l6.7 6.7v7.2l-6.7 6.7h-7.2l-6.7-6.7v-7.2zM1475.6 1827.7h7.2l6.7 6.7v7.2l-6.7 6.7h-7.2l-6.7-6.7v-7.2zM1434.1 1866.6h7.2l6.7 6.7v7.2l-6.7 6.7h-7.2l-6.7-6.7v-7.2zM1444.5 1862.0h7.2l6.7 6.7v7.2l-6.7 6.7h-7.2l-6.7-6.7v-7.2zM1421.1 1856.8h7.2l6.7 6.7v7.2l-6.7 6.7h-7.2l-6.7-6.7v-7.2zM1844.2 1550.0h7.2l6.7 6.7v7.2l-6.7 6.7h-7.2l-6.7-6.7v-7.2zM1859.7 1544.8h7.2l6.7 6.7v7.2l-6.7 6.7h-7.2l-6.7-6.7v-7.2zM1864.9 1557.8h7.2l6.7 6.7v7.2l-6.7 6.7h-7.2l-6.7-6.7v-7.2zM1836.4 1560.4h7.2l6.7 6.7v7.2l-6.7 6.7h-7.2l-6.7-6.7v-7.2zM1880.5 1539.6h7.2l6.7 6.7v7.2l-6.7 6.7h-7.2l-6.7-6.7v-7.2zM1945.4 1474.7h7.2l6.7 6.7v7.2l-6.7 6.7h-7.2l-6.7-6.7v-7.2zM1948.0 1485.1h7.2l6.7 6.7v7.2l-6.7 6.7h-7.2l-6.7-6.7v-7.2zM1942.8 1461.8h7.2l6.7 6.7v7.2l-6.7 6.7h-7.2l-6.7-6.7v-7.2zM2067.4 1459.2h7.2l6.7 6.7v7.2l-6.7 6.7h-7.2l-6.7-6.7v-7.2zM2051.8 1461.8h7.2l6.7 6.7v7.2l-6.7 6.7h-7.2l-6.7-6.7v-7.2zM2072.5 1446.2h7.2l6.7 6.7v7.2l-6.7 6.7h-7.2l-6.7-6.7v-7.2zM2005.1 1508.5h7.2l6.7 6.7v7.2l-6.7 6.7h-7.2l-6.7-6.7v-7.2zM1994.7 1518.9h7.2l6.7 6.7v7.2l-6.7 6.7h-7.2l-6.7-6.7v-7.2zM1984.3 1534.4h7.2l6.7 6.7v7.2l-6.7 6.7h-7.2l-6.7-6.7v-7.2zM2010.3 1518.9h7.2l6.7 6.7v7.2l-6.7 6.7h-7.2l-6.7-6.7v-7.2zM1563.9 1636.4h7.2l6.7 6.7v7.2l-6.7 6.7h-7.2l-6.7-6.7v-7.2zM1560.3 1656.7h7.2l6.7 6.7v7.2l-6.7 6.7h-7.2l-6.7-6.7v-7.2zM1604.4 1727.2h7.2l6.7 6.7v7.2l-6.7 6.7h-7.2l-6.7-6.7v-7.2zM1590.3 1739.5h7.2l6.7 6.7v7.2l-6.7 6.7h-7.2l-6.7-6.7v-7.2zM1607.9 1743.1h7.2l6.7 6.7v7.2l-6.7 6.7h-7.2l-6.7-6.7v-7.2zM1599.1 1713.1h7.2l6.7 6.7v7.2l-6.7 6.7h-7.2l-6.7-6.7v-7.2zM1616.7 1704.3h7.2l6.7 6.7v7.2l-6.7 6.7h-7.2l-6.7-6.7v-7.2zM1581.5 1730.7h7.2l6.7 6.7v7.2l-6.7 6.7h-7.2l-6.7-6.7v-7.2zM1581.5 1757.2h7.2l6.7 6.7v7.2l-6.7 6.7h-7.2l-6.7-6.7v-7.2zM1599.1 1757.2h7.2l6.7 6.7v7.2l-6.7 6.7h-7.2l-6.7-6.7v-7.2zM1590.3 1708.8h7.2l6.7 6.7v7.2l-6.7 6.7h-7.2l-6.7-6.7v-7.2zM1461.6 1834.7h7.2l6.7 6.7v7.2l-6.7 6.7h-7.2l-6.7-6.7v-7.2z" fill="#0071c2"/>
<line x1="1283.0" y1="1910.8" x2="2366.7" y2="1075.7" stroke="#d95319" stroke-width="2.2"/>
<line x1="1283.0" y1="1910.8" x2="1283.0" y2="1899.8" stroke="#1e1e1e" stroke-width="2"/>
<line x1="1283.0" y1="1075.7" x2="1283.0" y2="1086.7" stroke="#1e1e1e" stroke-width="2"/>
<line x1="1283.0" y1="1910.8" x2="1294.0" y2="1910.8" stroke="#1e1e1e" stroke-width="2"/>
<line x1="2366.7" y1="1910.8" x2="2355.7" y2="1910.8" stroke="#1e1e1e" stroke-width="2"/>
<line x1="1463.6" y1="1910.8" x2="1463.6" y2="1899.8" stroke="#1e1e1e" stroke-width="2"/>
<line x1="1463.6" y1="1075.7" x2="1463.6" y2="1086.7" stroke="#1e1e1e" stroke-width="2"/>
<line x1="1283.0" y1="1771.6" x2="1294.0" y2="1771.6" stroke="#1e1e1e" stroke-width="2"/>
<line x1="2366.7" y1="1771.6" x2="2355.7" y2="1771.6" stroke="#1e1e1e" stroke-width="2"/>
<line x1="1644.2" y1="1910.8" x2="1644.2" y2="1899.8" stroke="#1e1e1e" stroke-width="2"/>
<line x1="1644.2" y1="1075.7" x2="1644.2" y2="1086.7" stroke="#1e1e1e" stroke-width="2"/>
<line x1="1283.0" y1="1632.4" x2="1294.0" y2="1632.4" stroke="#1e1e1e" stroke-width="2"/>
<line x1="2366.7" y1="1632.4" x2="2355.7" y2="1632.4" stroke="#1e1e1e" stroke-width="2"/>
<line x1="1824.8" y1="1910.8" x2="1824.8" y2="1899.8" stroke="#1e1e1e" stroke-width="2"/>
<line x1="1824.8" y1="1075.7" x2="1824.8" y2="1086.7" stroke="#1e1e1e" stroke-width="2"/>
<line x1="1283.0" y1="1493.2" x2="1294.0" y2="1493.2" stroke="#1e1e1e" stroke-width="2"/>
<line x1="2366.7" y1="1493.2" x2="2355.7" y2="1493.2" stroke="#1e1e1e" stroke-width="2"/>
<line x1="2005.5" y1="1910.8" x2="2005.5" y2="1899.8" stroke="#1e1e1e" stroke-width="2"/>
<line x1="2005.5" y1="1075.7" x2="2005.5" y2="1086.7" stroke="#1e1e1e" stroke-width="2"/>
<line x1="1283.0" y1="1354.1" x2="1294.0" y2="1354.1" stroke="#1e1e1e" stroke-width="2"/>
<line x1="2366.7" y1="1354.1" x2="2355.7" y2="1354.1" stroke="#1e1e1e" stroke-width="2"/>
<line x1="2186.1" y1="1910.8" x2="2186.1" y2="1899.8" stroke="#1e1e1e" stroke-width="2"/>
<line x1="2186.1" y1="1075.7" x2="2186.1" y2="1086.7" stroke="#1e1e1e" stroke-width="2"/>
<line x1="1283.0" y1="1214.9" x2="1294.0" y2="1214.9" stroke="#1e1e1e" stroke-width="2"/>
<line x1="2366.7" y1="1214.9" x2="2355.7" y2="1214.9" stroke="#1e1e1e" stroke-width="2"/>
<line x1="2366.7" y1="1910.8" x2="2366.7" y2="1899.8" stroke="#1e1e1e" stroke-width="2"/>
<line x1="2366.7" y1="1075.7" x2="2366.7" y2="1086.7" stroke="#1e1e1e" stroke-width="2"/>
<line x1="1283.0" y1="1075.7" x2="1294.0" y2="1075.7" stroke="#1e1e1e" stroke-width="2"/>
<line x1="2366.7" y1="1075.7" x2="2355.7" y2="1075.7" stroke="#1e1e1e" stroke-width="2"/>
<rect x="1283.0" y="1075.7" width="1083.7" height="835.1" fill="none" stroke="#1e1e1e" stroke-width="2"/>
<text x="1281.8" y="1957.5" font-size="33.0" fill="#111" text-anchor="middle" font-weight="normal" >0</text>
<text x="1267.0" y="1922.7" font-size="33.0" fill="#111" text-anchor="end" font-weight="normal" >0</text>
<text x="1462.4" y="1957.5" font-size="33.0" fill="#111" text-anchor="middle" font-weight="normal" >1</text>
<text x="1267.0" y="1783.5" font-size="33.0" fill="#111" text-anchor="end" font-weight="normal" >1</text>
<text x="1643.0" y="1957.5" font-size="33.0" fill="#111" text-anchor="middle" font-weight="normal" >2</text>
<text x="1267.0" y="1644.3" font-size="33.0" fill="#111" text-anchor="end" font-weight="normal" >2</text>
<text x="1823.6" y="1957.5" font-size="33.0" fill="#111" text-anchor="middle" font-weight="normal" >3</text>
<text x="1267.0" y="1505.2" font-size="33.0" fill="#111" text-anchor="end" font-weight="normal" >3</text>
<text x="2004.3" y="1957.5" font-size="33.0" fill="#111" text-anchor="middle" font-weight="normal" >4</text>
<text x="1267.0" y="1366.0" font-size="33.0" fill="#111" text-anchor="end" font-weight="normal" >4</text>
<text x="2184.9" y="1957.5" font-size="33.0" fill="#111" text-anchor="middle" font-weight="normal" >5</text>
<text x="1267.0" y="1226.8" font-size="33.0" fill="#111" text-anchor="end" font-weight="normal" >5</text>
<text x="2365.5" y="1957.5" font-size="33.0" fill="#111" text-anchor="middle" font-weight="normal" >6</text>
<text x="1267.0" y="1087.6" font-size="33.0" fill="#111" text-anchor="end" font-weight="normal" >6</text>
<text x="1824.8" y="2004.6" font-size="34.0" fill="#111" text-anchor="middle" font-weight="normal" textLength="370.0" lengthAdjust="spacingAndGlyphs" >SWH from ECMWF /m</text>
<text transform="translate(1229.0 1493.2) rotate(-90)" x="0" y="0" font-size="36" fill="#111" text-anchor="middle" textLength="282" lengthAdjust="spacingAndGlyphs">SWH by MLE4 /m</text>
<text x="1297.8" y="1131.8" font-size="52.0" fill="#000" text-anchor="start" font-weight="bold" textLength="61.5" lengthAdjust="spacingAndGlyphs" >(d)</text>
<text x="1579.5" y="1042.9" font-size="34.0" fill="#000" textLength="492.0" lengthAdjust="spacingAndGlyphs">CFO<tspan font-size="20.4" font-weight="bold" dy="12.9">-</tspan><tspan dy="-12.9">OP05</tspan><tspan font-size="20.4" font-weight="bold" dy="12.9">-</tspan><tspan dy="-12.9">SWI</tspan><tspan font-size="20.4" font-weight="bold" dy="12.9">-</tspan><tspan dy="-12.9">L1A</tspan><tspan font-size="20.4" font-weight="bold" dy="12.9">-</tspan><tspan dy="-12.9">---812.nc</tspan></text>
</g>
</svg></body></html>
